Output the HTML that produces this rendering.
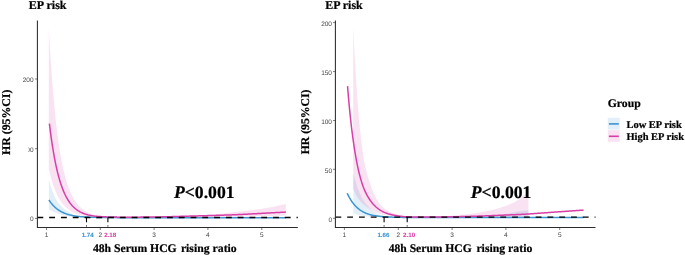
<!DOCTYPE html>
<html><head><meta charset="utf-8"><title>EP risk</title>
<style>
html,body{margin:0;padding:0;background:#fff;}
svg{display:block;}
text{text-rendering:geometricPrecision;}
.b{font-family:"Liberation Serif",serif;font-weight:bold;fill:#000;stroke:#000;stroke-width:0.22px;}
.tk{font-family:"Liberation Sans",sans-serif;font-size:6.5px;fill:#444;}
.tkb{font-family:"Liberation Sans",sans-serif;font-size:6.2px;font-weight:bold;stroke-width:0.08px;}
</style></head><body>
<svg width="685" height="255" viewBox="0 0 685 255">
<rect width="685" height="255" fill="#fff"/>
<path d="M48.90,179.30 L49.50,181.65 L50.00,183.51 L50.50,185.27 L51.00,186.93 L51.50,188.52 L52.00,190.02 L52.50,191.45 L53.00,192.80 L53.50,194.09 L54.00,195.31 L54.50,196.46 L55.00,197.56 L55.50,198.43 L56.00,199.27 L56.50,200.07 L57.00,200.83 L57.50,201.57 L58.00,202.27 L58.50,202.94 L59.00,203.58 L59.50,204.20 L60.00,204.79 L60.50,205.35 L61.00,205.89 L61.50,206.41 L62.00,206.90 L62.50,207.37 L63.00,207.83 L63.50,208.26 L64.00,208.68 L64.50,209.08 L65.00,209.47 L65.50,209.83 L66.00,210.19 L66.50,210.52 L67.00,210.85 L67.50,211.16 L68.00,211.45 L68.50,211.74 L69.00,212.01 L69.50,212.27 L70.00,212.51 L70.50,212.90 L71.00,213.25 L71.50,213.59 L72.00,213.89 L72.50,214.18 L73.00,214.45 L73.50,214.70 L74.00,214.93 L74.50,215.11 L75.00,215.28 L75.50,215.43 L76.00,215.58 L76.50,215.70 L77.00,215.81 L77.50,215.91 L78.00,216.01 L78.50,216.10 L79.00,216.19 L79.50,216.28 L80.00,216.36 L80.50,216.43 L81.00,216.49 L81.50,216.55 L82.00,216.61 L82.50,216.66 L83.00,216.72 L83.50,216.77 L84.00,216.82 L84.50,216.86 L85.00,216.91 L85.50,216.95 L86.00,216.99 L86.50,217.03 L87.00,217.05 L87.50,217.08 L88.00,217.10 L88.50,217.12 L89.00,217.14 L89.50,217.17 L90.00,217.19 L90.50,217.20 L91.00,217.22 L91.50,217.24 L92.00,217.26 L92.50,217.28 L93.00,217.29 L93.50,217.31 L94.00,217.32 L94.50,217.34 L95.00,217.35 L95.50,217.36 L96.00,217.38 L96.50,217.39 L97.00,217.40 L97.50,217.41 L98.00,217.42 L98.50,217.43 L99.00,217.44 L99.50,217.45 L100.00,217.46 L100.50,217.47 L101.00,217.48 L101.50,217.49 L102.00,217.49 L102.50,217.50 L103.00,217.51 L103.50,217.52 L104.00,217.52 L104.50,217.53 L105.00,217.53 L105.50,217.54 L106.00,217.55 L106.50,217.55 L107.00,217.56 L107.50,217.56 L108.00,217.57 L108.50,217.57 L109.00,217.58 L109.50,217.58 L110.00,217.58 L110.50,217.59 L111.00,217.59 L111.50,217.60 L112.00,217.60 L112.50,217.60 L113.00,217.61 L113.50,217.61 L114.00,217.61 L114.50,217.61 L115.00,217.62 L115.50,217.62 L116.00,217.62 L116.50,217.62 L117.00,217.63 L117.50,217.63 L118.00,217.63 L118.50,217.63 L119.00,217.63 L119.50,217.64 L120.00,217.64 L120.50,217.64 L121.00,217.64 L121.50,217.64 L122.00,217.64 L122.50,217.65 L123.00,217.65 L123.50,217.65 L124.00,217.65 L124.50,217.65 L125.00,217.65 L125.50,217.65 L126.00,217.65 L126.50,217.66 L127.00,217.66 L127.50,217.66 L128.00,217.66 L128.50,217.66 L129.00,217.66 L129.50,217.66 L130.00,217.66 L130.50,217.66 L131.00,217.66 L131.50,217.66 L132.00,217.66 L132.50,217.67 L133.00,217.67 L133.50,217.67 L134.00,217.67 L134.50,217.67 L135.00,217.67 L135.50,217.67 L136.00,217.67 L136.50,217.67 L137.00,217.67 L137.50,217.67 L138.00,217.67 L138.50,217.67 L139.00,217.67 L139.50,217.67 L140.00,217.67 L140.50,217.67 L141.00,217.67 L141.50,217.67 L142.00,217.67 L142.50,217.67 L143.00,217.67 L143.50,217.67 L144.00,217.67 L144.50,217.67 L145.00,217.67 L145.50,217.68 L146.00,217.68 L146.50,217.68 L147.00,217.68 L147.50,217.68 L148.00,217.68 L148.50,217.68 L149.00,217.68 L149.50,217.68 L150.00,217.68 L150.50,217.68 L151.00,217.68 L151.50,217.68 L152.00,217.68 L152.50,217.68 L153.00,217.68 L153.50,217.68 L154.00,217.68 L154.50,217.68 L155.00,217.68 L155.50,217.68 L156.00,217.68 L156.50,217.68 L157.00,217.68 L157.50,217.68 L158.00,217.68 L158.50,217.68 L159.00,217.68 L159.50,217.68 L160.00,217.68 L160.50,217.68 L161.00,217.68 L161.50,217.68 L162.00,217.68 L162.50,217.68 L163.00,217.68 L163.50,217.68 L164.00,217.68 L164.50,217.68 L165.00,217.68 L165.50,217.68 L166.00,217.68 L166.50,217.68 L167.00,217.68 L167.50,217.68 L168.00,217.68 L168.50,217.68 L169.00,217.68 L169.50,217.68 L170.00,217.68 L170.50,217.68 L171.00,217.68 L171.50,217.68 L172.00,217.68 L172.50,217.68 L173.00,217.68 L173.50,217.68 L174.00,217.68 L174.50,217.68 L175.00,217.68 L175.50,217.68 L176.00,217.68 L176.50,217.68 L177.00,217.68 L177.50,217.68 L178.00,217.68 L178.50,217.68 L179.00,217.68 L179.50,217.68 L180.00,217.68 L180.50,217.68 L181.00,217.68 L181.50,217.68 L182.00,217.68 L182.50,217.68 L183.00,217.68 L183.50,217.68 L184.00,217.68 L184.50,217.68 L185.00,217.68 L185.50,217.68 L186.00,217.68 L186.50,217.68 L187.00,217.68 L187.50,217.68 L188.00,217.68 L188.50,217.68 L189.00,217.68 L189.50,217.68 L190.00,217.68 L190.50,217.68 L191.00,217.68 L191.50,217.68 L192.00,217.68 L192.50,217.68 L193.00,217.68 L193.50,217.68 L194.00,217.68 L194.50,217.68 L195.00,217.68 L195.50,217.68 L196.00,217.68 L196.50,217.68 L197.00,217.68 L197.50,217.68 L198.00,217.68 L198.50,217.68 L199.00,217.68 L199.50,217.68 L200.00,217.68 L200.50,217.68 L201.00,217.68 L201.50,217.68 L202.00,217.68 L202.50,217.68 L203.00,217.68 L203.50,217.68 L204.00,217.68 L204.50,217.68 L205.00,217.68 L205.50,217.68 L206.00,217.68 L206.50,217.68 L207.00,217.68 L207.50,217.68 L208.00,217.68 L208.50,217.68 L209.00,217.68 L209.50,217.68 L210.00,217.68 L210.50,217.68 L211.00,217.68 L211.50,217.68 L212.00,217.68 L212.50,217.68 L213.00,217.68 L213.50,217.68 L214.00,217.68 L214.50,217.68 L215.00,217.68 L215.50,217.68 L216.00,217.68 L216.50,217.68 L217.00,217.68 L217.50,217.68 L218.00,217.68 L218.50,217.68 L219.00,217.68 L219.50,217.68 L220.00,217.68 L220.50,217.68 L221.00,217.68 L221.50,217.68 L222.00,217.68 L222.50,217.68 L223.00,217.68 L223.50,217.68 L224.00,217.68 L224.50,217.68 L225.00,217.68 L225.50,217.68 L226.00,217.68 L226.50,217.68 L227.00,217.68 L227.50,217.68 L228.00,217.68 L228.50,217.68 L229.00,217.68 L229.50,217.68 L230.00,217.68 L230.50,217.68 L231.00,217.68 L231.50,217.68 L232.00,217.68 L232.50,217.68 L233.00,217.68 L233.50,217.68 L234.00,217.68 L234.50,217.68 L235.00,217.68 L235.50,217.68 L236.00,217.68 L236.50,217.68 L237.00,217.68 L237.50,217.68 L238.00,217.68 L238.50,217.68 L239.00,217.68 L239.50,217.68 L240.00,217.68 L240.50,217.68 L241.00,217.68 L241.50,217.68 L242.00,217.68 L242.50,217.68 L243.00,217.68 L243.50,217.68 L244.00,217.68 L244.50,217.68 L245.00,217.68 L245.50,217.68 L246.00,217.68 L246.50,217.68 L247.00,217.68 L247.50,217.68 L248.00,217.68 L248.50,217.68 L249.00,217.68 L249.50,217.68 L250.00,217.68 L250.50,217.68 L251.00,217.68 L251.50,217.68 L252.00,217.68 L252.50,217.68 L253.00,217.68 L253.50,217.68 L254.00,217.68 L254.50,217.68 L255.00,217.68 L255.50,217.68 L256.00,217.68 L256.50,217.68 L257.00,217.68 L257.50,217.68 L258.00,217.68 L258.50,217.68 L259.00,217.68 L259.50,217.68 L260.00,217.68 L260.50,217.68 L261.00,217.68 L261.50,217.68 L262.00,217.68 L262.50,217.68 L263.00,217.68 L263.50,217.68 L264.00,217.68 L264.50,217.68 L265.00,217.68 L265.50,217.68 L266.00,217.68 L266.50,217.68 L267.00,217.68 L267.50,217.68 L268.00,217.68 L268.50,217.68 L269.00,217.68 L269.50,217.68 L270.00,217.68 L270.50,217.68 L271.00,217.68 L271.50,217.68 L272.00,217.68 L272.50,217.68 L273.00,217.68 L273.50,217.68 L274.00,217.68 L274.50,217.68 L275.00,217.68 L275.50,217.68 L276.00,217.68 L276.50,217.68 L277.00,217.68 L277.50,217.68 L278.00,217.68 L278.50,217.68 L279.00,217.68 L279.50,217.68 L280.00,217.68 L280.50,217.68 L281.00,217.68 L281.50,217.68 L282.00,217.68 L282.50,217.68 L283.00,217.68 L283.50,217.68 L284.00,217.68 L284.50,217.68 L285.00,217.68 L285.50,217.68 L285.90,217.68 L285.90,217.68 L285.50,217.68 L285.00,217.68 L284.50,217.68 L284.00,217.68 L283.50,217.68 L283.00,217.68 L282.50,217.68 L282.00,217.68 L281.50,217.68 L281.00,217.68 L280.50,217.68 L280.00,217.68 L279.50,217.68 L279.00,217.68 L278.50,217.68 L278.00,217.68 L277.50,217.68 L277.00,217.68 L276.50,217.68 L276.00,217.68 L275.50,217.68 L275.00,217.68 L274.50,217.68 L274.00,217.68 L273.50,217.68 L273.00,217.68 L272.50,217.68 L272.00,217.68 L271.50,217.68 L271.00,217.68 L270.50,217.68 L270.00,217.68 L269.50,217.68 L269.00,217.68 L268.50,217.68 L268.00,217.68 L267.50,217.68 L267.00,217.68 L266.50,217.68 L266.00,217.68 L265.50,217.68 L265.00,217.68 L264.50,217.68 L264.00,217.68 L263.50,217.68 L263.00,217.68 L262.50,217.68 L262.00,217.68 L261.50,217.68 L261.00,217.68 L260.50,217.68 L260.00,217.68 L259.50,217.68 L259.00,217.68 L258.50,217.68 L258.00,217.68 L257.50,217.68 L257.00,217.68 L256.50,217.68 L256.00,217.68 L255.50,217.68 L255.00,217.68 L254.50,217.68 L254.00,217.68 L253.50,217.68 L253.00,217.68 L252.50,217.68 L252.00,217.68 L251.50,217.68 L251.00,217.68 L250.50,217.68 L250.00,217.68 L249.50,217.68 L249.00,217.68 L248.50,217.68 L248.00,217.68 L247.50,217.68 L247.00,217.68 L246.50,217.68 L246.00,217.68 L245.50,217.68 L245.00,217.68 L244.50,217.68 L244.00,217.68 L243.50,217.68 L243.00,217.68 L242.50,217.68 L242.00,217.68 L241.50,217.68 L241.00,217.68 L240.50,217.68 L240.00,217.68 L239.50,217.68 L239.00,217.68 L238.50,217.68 L238.00,217.68 L237.50,217.68 L237.00,217.68 L236.50,217.68 L236.00,217.68 L235.50,217.68 L235.00,217.68 L234.50,217.68 L234.00,217.68 L233.50,217.68 L233.00,217.68 L232.50,217.68 L232.00,217.68 L231.50,217.68 L231.00,217.68 L230.50,217.68 L230.00,217.68 L229.50,217.68 L229.00,217.68 L228.50,217.68 L228.00,217.68 L227.50,217.68 L227.00,217.68 L226.50,217.68 L226.00,217.68 L225.50,217.68 L225.00,217.68 L224.50,217.68 L224.00,217.68 L223.50,217.68 L223.00,217.68 L222.50,217.68 L222.00,217.68 L221.50,217.68 L221.00,217.68 L220.50,217.68 L220.00,217.68 L219.50,217.68 L219.00,217.68 L218.50,217.68 L218.00,217.68 L217.50,217.68 L217.00,217.68 L216.50,217.68 L216.00,217.68 L215.50,217.68 L215.00,217.68 L214.50,217.68 L214.00,217.68 L213.50,217.68 L213.00,217.68 L212.50,217.68 L212.00,217.68 L211.50,217.68 L211.00,217.68 L210.50,217.68 L210.00,217.68 L209.50,217.68 L209.00,217.68 L208.50,217.68 L208.00,217.68 L207.50,217.68 L207.00,217.68 L206.50,217.68 L206.00,217.68 L205.50,217.68 L205.00,217.68 L204.50,217.68 L204.00,217.68 L203.50,217.68 L203.00,217.68 L202.50,217.68 L202.00,217.68 L201.50,217.68 L201.00,217.68 L200.50,217.68 L200.00,217.68 L199.50,217.68 L199.00,217.68 L198.50,217.68 L198.00,217.68 L197.50,217.68 L197.00,217.68 L196.50,217.68 L196.00,217.68 L195.50,217.68 L195.00,217.68 L194.50,217.68 L194.00,217.68 L193.50,217.68 L193.00,217.68 L192.50,217.68 L192.00,217.68 L191.50,217.68 L191.00,217.68 L190.50,217.68 L190.00,217.68 L189.50,217.68 L189.00,217.68 L188.50,217.68 L188.00,217.68 L187.50,217.68 L187.00,217.68 L186.50,217.68 L186.00,217.68 L185.50,217.68 L185.00,217.68 L184.50,217.68 L184.00,217.68 L183.50,217.68 L183.00,217.68 L182.50,217.68 L182.00,217.68 L181.50,217.68 L181.00,217.68 L180.50,217.68 L180.00,217.68 L179.50,217.68 L179.00,217.68 L178.50,217.68 L178.00,217.68 L177.50,217.68 L177.00,217.68 L176.50,217.68 L176.00,217.68 L175.50,217.68 L175.00,217.68 L174.50,217.68 L174.00,217.68 L173.50,217.68 L173.00,217.68 L172.50,217.68 L172.00,217.68 L171.50,217.68 L171.00,217.68 L170.50,217.68 L170.00,217.68 L169.50,217.68 L169.00,217.68 L168.50,217.68 L168.00,217.68 L167.50,217.68 L167.00,217.68 L166.50,217.68 L166.00,217.68 L165.50,217.68 L165.00,217.68 L164.50,217.68 L164.00,217.68 L163.50,217.68 L163.00,217.68 L162.50,217.68 L162.00,217.68 L161.50,217.68 L161.00,217.68 L160.50,217.68 L160.00,217.68 L159.50,217.68 L159.00,217.68 L158.50,217.68 L158.00,217.68 L157.50,217.68 L157.00,217.68 L156.50,217.68 L156.00,217.68 L155.50,217.68 L155.00,217.68 L154.50,217.68 L154.00,217.68 L153.50,217.68 L153.00,217.68 L152.50,217.68 L152.00,217.68 L151.50,217.68 L151.00,217.68 L150.50,217.68 L150.00,217.68 L149.50,217.68 L149.00,217.68 L148.50,217.68 L148.00,217.68 L147.50,217.68 L147.00,217.68 L146.50,217.68 L146.00,217.68 L145.50,217.68 L145.00,217.67 L144.50,217.67 L144.00,217.67 L143.50,217.67 L143.00,217.67 L142.50,217.67 L142.00,217.67 L141.50,217.67 L141.00,217.67 L140.50,217.67 L140.00,217.67 L139.50,217.67 L139.00,217.67 L138.50,217.67 L138.00,217.67 L137.50,217.67 L137.00,217.67 L136.50,217.67 L136.00,217.67 L135.50,217.67 L135.00,217.67 L134.50,217.67 L134.00,217.67 L133.50,217.67 L133.00,217.67 L132.50,217.67 L132.00,217.66 L131.50,217.66 L131.00,217.66 L130.50,217.66 L130.00,217.66 L129.50,217.66 L129.00,217.66 L128.50,217.66 L128.00,217.66 L127.50,217.66 L127.00,217.66 L126.50,217.66 L126.00,217.65 L125.50,217.65 L125.00,217.65 L124.50,217.65 L124.00,217.65 L123.50,217.65 L123.00,217.65 L122.50,217.65 L122.00,217.64 L121.50,217.64 L121.00,217.64 L120.50,217.64 L120.00,217.64 L119.50,217.64 L119.00,217.63 L118.50,217.63 L118.00,217.63 L117.50,217.63 L117.00,217.63 L116.50,217.62 L116.00,217.62 L115.50,217.62 L115.00,217.62 L114.50,217.61 L114.00,217.61 L113.50,217.61 L113.00,217.61 L112.50,217.60 L112.00,217.60 L111.50,217.60 L111.00,217.59 L110.50,217.59 L110.00,217.58 L109.50,217.58 L109.00,217.58 L108.50,217.57 L108.00,217.57 L107.50,217.56 L107.00,217.56 L106.50,217.55 L106.00,217.55 L105.50,217.54 L105.00,217.53 L104.50,217.53 L104.00,217.52 L103.50,217.52 L103.00,217.51 L102.50,217.50 L102.00,217.49 L101.50,217.49 L101.00,217.48 L100.50,217.47 L100.00,217.46 L99.50,217.45 L99.00,217.44 L98.50,217.43 L98.00,217.42 L97.50,217.41 L97.00,217.40 L96.50,217.39 L96.00,217.38 L95.50,217.36 L95.00,217.35 L94.50,217.34 L94.00,217.32 L93.50,217.31 L93.00,217.29 L92.50,217.28 L92.00,217.26 L91.50,217.24 L91.00,217.22 L90.50,217.20 L90.00,217.19 L89.50,217.17 L89.00,217.14 L88.50,217.12 L88.00,217.10 L87.50,217.08 L87.00,217.05 L86.50,217.03 L86.00,217.01 L85.50,216.99 L85.00,216.98 L84.50,216.96 L84.00,216.94 L83.50,216.93 L83.00,216.91 L82.50,216.89 L82.00,216.87 L81.50,216.85 L81.00,216.83 L80.50,216.81 L80.00,216.78 L79.50,216.77 L79.00,216.75 L78.50,216.74 L78.00,216.72 L77.50,216.70 L77.00,216.68 L76.50,216.67 L76.00,216.65 L75.50,216.61 L75.00,216.58 L74.50,216.54 L74.00,216.50 L73.50,216.49 L73.00,216.47 L72.50,216.45 L72.00,216.43 L71.50,216.41 L71.00,216.39 L70.50,216.37 L70.00,216.35 L69.50,216.28 L69.00,216.21 L68.50,216.13 L68.00,216.05 L67.50,215.97 L67.00,215.89 L66.50,215.80 L66.00,215.71 L65.50,215.61 L65.00,215.51 L64.50,215.41 L64.00,215.30 L63.50,215.19 L63.00,215.07 L62.50,214.95 L62.00,214.82 L61.50,214.68 L61.00,214.54 L60.50,214.40 L60.00,214.24 L59.50,214.08 L59.00,213.92 L58.50,213.75 L58.00,213.57 L57.50,213.38 L57.00,213.18 L56.50,212.98 L56.00,212.77 L55.50,212.55 L55.00,212.32 L54.50,212.13 L54.00,211.93 L53.50,211.73 L53.00,211.52 L52.50,211.31 L52.00,211.09 L51.50,210.86 L51.00,210.62 L50.50,210.38 L50.00,210.12 L49.50,209.86 L48.90,209.54 Z" fill="#3b93cf" fill-opacity="0.15"/>
<path d="M48.80,29.15 L49.00,32.69 L49.50,41.25 L50.00,49.41 L50.50,57.20 L51.00,64.62 L51.50,71.70 L52.00,78.46 L52.50,84.91 L53.00,91.05 L53.50,96.92 L54.00,102.51 L54.50,107.84 L55.00,112.93 L55.50,117.79 L56.00,122.42 L56.50,126.74 L57.00,130.87 L57.50,134.82 L58.00,138.58 L58.50,142.18 L59.00,145.61 L59.50,148.89 L60.00,152.02 L60.50,155.00 L61.00,157.86 L61.50,160.58 L62.00,163.18 L62.50,165.66 L63.00,168.03 L63.50,170.21 L64.00,172.29 L64.50,174.29 L65.00,176.19 L65.50,178.02 L66.00,179.76 L66.50,181.43 L67.00,183.02 L67.50,184.55 L68.00,186.01 L68.50,187.40 L69.00,188.73 L69.50,190.01 L70.00,191.23 L70.50,192.40 L71.00,193.51 L71.50,194.58 L72.00,195.60 L72.50,196.58 L73.00,197.51 L73.50,198.40 L74.00,199.26 L74.50,200.07 L75.00,200.85 L75.50,201.60 L76.00,202.31 L76.50,202.99 L77.00,203.64 L77.50,204.27 L78.00,204.86 L78.50,205.43 L79.00,205.97 L79.50,206.49 L80.00,206.99 L80.50,207.46 L81.00,207.91 L81.50,208.34 L82.00,208.76 L82.50,209.15 L83.00,209.53 L83.50,209.89 L84.00,210.23 L84.50,210.56 L85.00,210.87 L85.50,211.17 L86.00,211.45 L86.50,211.72 L87.00,211.98 L87.50,212.26 L88.00,212.55 L88.50,212.83 L89.00,213.09 L89.50,213.34 L90.00,213.57 L90.50,213.79 L91.00,213.99 L91.50,214.18 L92.00,214.37 L92.50,214.54 L93.00,214.70 L93.50,214.84 L94.00,214.98 L94.50,215.11 L95.00,215.23 L95.50,215.34 L96.00,215.45 L96.50,215.55 L97.00,215.65 L97.50,215.74 L98.00,215.82 L98.50,215.91 L99.00,215.99 L99.50,216.06 L100.00,216.13 L100.50,216.20 L101.00,216.27 L101.50,216.33 L102.00,216.38 L102.50,216.44 L103.00,216.49 L103.50,216.54 L104.00,216.59 L104.50,216.64 L105.00,216.68 L105.50,216.73 L106.00,216.77 L106.50,216.81 L107.00,216.85 L107.50,216.89 L108.00,216.93 L108.50,216.93 L109.00,216.93 L109.50,216.93 L110.00,216.92 L110.50,216.92 L111.00,216.92 L111.50,216.92 L112.00,216.91 L112.50,216.91 L113.00,216.91 L113.50,216.91 L114.00,216.91 L114.50,216.91 L115.00,216.90 L115.50,216.90 L116.00,216.90 L116.50,216.90 L117.00,216.90 L117.50,216.90 L118.00,216.90 L118.50,216.89 L119.00,216.89 L119.50,216.89 L120.00,216.89 L120.50,216.89 L121.00,216.89 L121.50,216.89 L122.00,216.89 L122.50,216.89 L123.00,216.88 L123.50,216.88 L124.00,216.88 L124.50,216.88 L125.00,216.88 L125.50,216.88 L126.00,216.88 L126.50,216.88 L127.00,216.88 L127.50,216.88 L128.00,216.87 L128.50,216.87 L129.00,216.87 L129.50,216.87 L130.00,216.87 L130.50,216.87 L131.00,216.87 L131.50,216.87 L132.00,216.87 L132.50,216.86 L133.00,216.86 L133.50,216.86 L134.00,216.86 L134.50,216.86 L135.00,216.86 L135.50,216.86 L136.00,216.85 L136.50,216.85 L137.00,216.85 L137.50,216.85 L138.00,216.85 L138.50,216.84 L139.00,216.84 L139.50,216.84 L140.00,216.84 L140.50,216.84 L141.00,216.83 L141.50,216.83 L142.00,216.83 L142.50,216.83 L143.00,216.82 L143.50,216.82 L144.00,216.82 L144.50,216.81 L145.00,216.81 L145.50,216.81 L146.00,216.80 L146.50,216.80 L147.00,216.80 L147.50,216.79 L148.00,216.79 L148.50,216.79 L149.00,216.78 L149.50,216.78 L150.00,216.77 L150.50,216.77 L151.00,216.76 L151.50,216.76 L152.00,216.75 L152.50,216.75 L153.00,216.74 L153.50,216.74 L154.00,216.73 L154.50,216.73 L155.00,216.72 L155.50,216.71 L156.00,216.71 L156.50,216.70 L157.00,216.69 L157.50,216.69 L158.00,216.68 L158.50,216.67 L159.00,216.67 L159.50,216.66 L160.00,216.65 L160.50,216.64 L161.00,216.63 L161.50,216.63 L162.00,216.62 L162.50,216.61 L163.00,216.60 L163.50,216.60 L164.00,216.59 L164.50,216.58 L165.00,216.57 L165.50,216.57 L166.00,216.56 L166.50,216.55 L167.00,216.54 L167.50,216.54 L168.00,216.53 L168.50,216.52 L169.00,216.51 L169.50,216.50 L170.00,216.50 L170.50,216.49 L171.00,216.48 L171.50,216.47 L172.00,216.46 L172.50,216.46 L173.00,216.45 L173.50,216.44 L174.00,216.43 L174.50,216.42 L175.00,216.41 L175.50,216.40 L176.00,216.39 L176.50,216.38 L177.00,216.37 L177.50,216.36 L178.00,216.35 L178.50,216.34 L179.00,216.33 L179.50,216.32 L180.00,216.31 L180.50,216.30 L181.00,216.29 L181.50,216.28 L182.00,216.27 L182.50,216.25 L183.00,216.24 L183.50,216.23 L184.00,216.21 L184.50,216.20 L185.00,216.19 L185.50,216.17 L186.00,216.16 L186.50,216.15 L187.00,216.13 L187.50,216.11 L188.00,216.10 L188.50,216.08 L189.00,216.07 L189.50,216.05 L190.00,216.03 L190.50,216.02 L191.00,216.00 L191.50,215.98 L192.00,215.96 L192.50,215.94 L193.00,215.92 L193.50,215.90 L194.00,215.88 L194.50,215.86 L195.00,215.84 L195.50,215.82 L196.00,215.80 L196.50,215.77 L197.00,215.75 L197.50,215.73 L198.00,215.70 L198.50,215.68 L199.00,215.65 L199.50,215.63 L200.00,215.60 L200.50,215.57 L201.00,215.54 L201.50,215.52 L202.00,215.48 L202.50,215.45 L203.00,215.42 L203.50,215.39 L204.00,215.35 L204.50,215.32 L205.00,215.28 L205.50,215.24 L206.00,215.21 L206.50,215.17 L207.00,215.13 L207.50,215.09 L208.00,215.05 L208.50,215.00 L209.00,214.96 L209.50,214.92 L210.00,214.87 L210.50,214.83 L211.00,214.78 L211.50,214.74 L212.00,214.69 L212.50,214.64 L213.00,214.60 L213.50,214.55 L214.00,214.50 L214.50,214.45 L215.00,214.40 L215.50,214.35 L216.00,214.30 L216.50,214.24 L217.00,214.19 L217.50,214.13 L218.00,214.08 L218.50,214.02 L219.00,213.96 L219.50,213.90 L220.00,213.84 L220.50,213.78 L221.00,213.72 L221.50,213.65 L222.00,213.59 L222.50,213.53 L223.00,213.46 L223.50,213.40 L224.00,213.34 L224.50,213.27 L225.00,213.21 L225.50,213.15 L226.00,213.08 L226.50,213.02 L227.00,212.96 L227.50,212.90 L228.00,212.84 L228.50,212.78 L229.00,212.72 L229.50,212.66 L230.00,212.60 L230.50,212.54 L231.00,212.49 L231.50,212.43 L232.00,212.38 L232.50,212.32 L233.00,212.27 L233.50,212.21 L234.00,212.16 L234.50,212.11 L235.00,212.05 L235.50,212.00 L236.00,211.95 L236.50,211.90 L237.00,211.85 L237.50,211.80 L238.00,211.74 L238.50,211.69 L239.00,211.64 L239.50,211.59 L240.00,211.54 L240.50,211.49 L241.00,211.43 L241.50,211.38 L242.00,211.33 L242.50,211.27 L243.00,211.22 L243.50,211.17 L244.00,211.11 L244.50,211.06 L245.00,211.00 L245.50,210.95 L246.00,210.89 L246.50,210.83 L247.00,210.77 L247.50,210.71 L248.00,210.65 L248.50,210.59 L249.00,210.53 L249.50,210.46 L250.00,210.40 L250.50,210.33 L251.00,210.27 L251.50,210.20 L252.00,210.14 L252.50,210.07 L253.00,210.01 L253.50,209.94 L254.00,209.87 L254.50,209.80 L255.00,209.74 L255.50,209.67 L256.00,209.60 L256.50,209.53 L257.00,209.46 L257.50,209.39 L258.00,209.32 L258.50,209.25 L259.00,209.18 L259.50,209.10 L260.00,209.03 L260.50,208.96 L261.00,208.88 L261.50,208.81 L262.00,208.73 L262.50,208.65 L263.00,208.58 L263.50,208.50 L264.00,208.42 L264.50,208.34 L265.00,208.26 L265.50,208.18 L266.00,208.09 L266.50,208.01 L267.00,207.93 L267.50,207.84 L268.00,207.76 L268.50,207.67 L269.00,207.58 L269.50,207.49 L270.00,207.40 L270.50,207.31 L271.00,207.21 L271.50,207.12 L272.00,207.02 L272.50,206.92 L273.00,206.82 L273.50,206.72 L274.00,206.62 L274.50,206.51 L275.00,206.41 L275.50,206.30 L276.00,206.19 L276.50,206.08 L277.00,205.97 L277.50,205.86 L278.00,205.75 L278.50,205.64 L279.00,205.53 L279.50,205.42 L280.00,205.31 L280.50,205.19 L281.00,205.08 L281.50,204.97 L282.00,204.86 L282.50,204.75 L283.00,204.63 L283.50,204.52 L284.00,204.41 L284.50,204.30 L285.00,204.19 L285.50,204.09 L285.90,204.00 L285.90,215.50 L285.50,215.51 L285.00,215.53 L284.50,215.54 L284.00,215.55 L283.50,215.57 L283.00,215.58 L282.50,215.60 L282.00,215.61 L281.50,215.63 L281.00,215.64 L280.50,215.66 L280.00,215.67 L279.50,215.69 L279.00,215.70 L278.50,215.72 L278.00,215.73 L277.50,215.75 L277.00,215.76 L276.50,215.78 L276.00,215.79 L275.50,215.81 L275.00,215.82 L274.50,215.84 L274.00,215.85 L273.50,215.87 L273.00,215.88 L272.50,215.90 L272.00,215.91 L271.50,215.93 L271.00,215.94 L270.50,215.96 L270.00,215.97 L269.50,215.99 L269.00,216.00 L268.50,216.02 L268.00,216.03 L267.50,216.05 L267.00,216.06 L266.50,216.08 L266.00,216.09 L265.50,216.11 L265.00,216.12 L264.50,216.14 L264.00,216.15 L263.50,216.17 L263.00,216.18 L262.50,216.19 L262.00,216.21 L261.50,216.22 L261.00,216.24 L260.50,216.25 L260.00,216.26 L259.50,216.28 L259.00,216.29 L258.50,216.30 L258.00,216.32 L257.50,216.33 L257.00,216.34 L256.50,216.35 L256.00,216.37 L255.50,216.38 L255.00,216.39 L254.50,216.40 L254.00,216.41 L253.50,216.43 L253.00,216.44 L252.50,216.45 L252.00,216.46 L251.50,216.47 L251.00,216.48 L250.50,216.49 L250.00,216.50 L249.50,216.51 L249.00,216.52 L248.50,216.53 L248.00,216.54 L247.50,216.55 L247.00,216.56 L246.50,216.57 L246.00,216.58 L245.50,216.59 L245.00,216.59 L244.50,216.60 L244.00,216.61 L243.50,216.62 L243.00,216.63 L242.50,216.64 L242.00,216.65 L241.50,216.65 L241.00,216.66 L240.50,216.67 L240.00,216.68 L239.50,216.69 L239.00,216.69 L238.50,216.70 L238.00,216.71 L237.50,216.72 L237.00,216.72 L236.50,216.73 L236.00,216.74 L235.50,216.75 L235.00,216.75 L234.50,216.76 L234.00,216.77 L233.50,216.77 L233.00,216.78 L232.50,216.79 L232.00,216.79 L231.50,216.80 L231.00,216.81 L230.50,216.81 L230.00,216.82 L229.50,216.83 L229.00,216.83 L228.50,216.84 L228.00,216.84 L227.50,216.85 L227.00,216.86 L226.50,216.86 L226.00,216.87 L225.50,216.87 L225.00,216.88 L224.50,216.88 L224.00,216.89 L223.50,216.90 L223.00,216.90 L222.50,216.91 L222.00,216.91 L221.50,216.92 L221.00,216.92 L220.50,216.93 L220.00,216.93 L219.50,216.94 L219.00,216.94 L218.50,216.95 L218.00,216.95 L217.50,216.96 L217.00,216.96 L216.50,216.97 L216.00,216.97 L215.50,216.98 L215.00,216.98 L214.50,216.98 L214.00,216.99 L213.50,216.99 L213.00,217.00 L212.50,217.00 L212.00,217.01 L211.50,217.01 L211.00,217.01 L210.50,217.02 L210.00,217.02 L209.50,217.03 L209.00,217.03 L208.50,217.04 L208.00,217.04 L207.50,217.04 L207.00,217.05 L206.50,217.05 L206.00,217.06 L205.50,217.06 L205.00,217.06 L204.50,217.07 L204.00,217.07 L203.50,217.07 L203.00,217.08 L202.50,217.08 L202.00,217.09 L201.50,217.09 L201.00,217.09 L200.50,217.10 L200.00,217.10 L199.50,217.10 L199.00,217.11 L198.50,217.11 L198.00,217.11 L197.50,217.12 L197.00,217.12 L196.50,217.12 L196.00,217.13 L195.50,217.13 L195.00,217.13 L194.50,217.14 L194.00,217.14 L193.50,217.14 L193.00,217.14 L192.50,217.15 L192.00,217.15 L191.50,217.15 L191.00,217.15 L190.50,217.16 L190.00,217.16 L189.50,217.16 L189.00,217.16 L188.50,217.17 L188.00,217.17 L187.50,217.17 L187.00,217.17 L186.50,217.17 L186.00,217.18 L185.50,217.18 L185.00,217.18 L184.50,217.18 L184.00,217.18 L183.50,217.18 L183.00,217.18 L182.50,217.19 L182.00,217.19 L181.50,217.19 L181.00,217.19 L180.50,217.19 L180.00,217.19 L179.50,217.19 L179.00,217.19 L178.50,217.20 L178.00,217.20 L177.50,217.20 L177.00,217.20 L176.50,217.20 L176.00,217.20 L175.50,217.20 L175.00,217.20 L174.50,217.20 L174.00,217.20 L173.50,217.20 L173.00,217.20 L172.50,217.20 L172.00,217.20 L171.50,217.20 L171.00,217.20 L170.50,217.21 L170.00,217.21 L169.50,217.21 L169.00,217.21 L168.50,217.21 L168.00,217.21 L167.50,217.21 L167.00,217.21 L166.50,217.21 L166.00,217.21 L165.50,217.20 L165.00,217.20 L164.50,217.20 L164.00,217.20 L163.50,217.20 L163.00,217.20 L162.50,217.20 L162.00,217.20 L161.50,217.20 L161.00,217.20 L160.50,217.20 L160.00,217.20 L159.50,217.20 L159.00,217.20 L158.50,217.20 L158.00,217.20 L157.50,217.20 L157.00,217.19 L156.50,217.19 L156.00,217.19 L155.50,217.19 L155.00,217.19 L154.50,217.19 L154.00,217.19 L153.50,217.19 L153.00,217.18 L152.50,217.18 L152.00,217.18 L151.50,217.18 L151.00,217.18 L150.50,217.18 L150.00,217.17 L149.50,217.17 L149.00,217.17 L148.50,217.17 L148.00,217.17 L147.50,217.16 L147.00,217.16 L146.50,217.16 L146.00,217.16 L145.50,217.15 L145.00,217.15 L144.50,217.15 L144.00,217.15 L143.50,217.15 L143.00,217.14 L142.50,217.14 L142.00,217.14 L141.50,217.13 L141.00,217.13 L140.50,217.13 L140.00,217.13 L139.50,217.12 L139.00,217.12 L138.50,217.12 L138.00,217.12 L137.50,217.11 L137.00,217.11 L136.50,217.11 L136.00,217.10 L135.50,217.10 L135.00,217.10 L134.50,217.10 L134.00,217.09 L133.50,217.09 L133.00,217.09 L132.50,217.08 L132.00,217.08 L131.50,217.08 L131.00,217.07 L130.50,217.07 L130.00,217.07 L129.50,217.06 L129.00,217.06 L128.50,217.06 L128.00,217.05 L127.50,217.05 L127.00,217.05 L126.50,217.05 L126.00,217.04 L125.50,217.04 L125.00,217.04 L124.50,217.03 L124.00,217.03 L123.50,217.03 L123.00,217.02 L122.50,217.02 L122.00,217.02 L121.50,217.01 L121.00,217.01 L120.50,217.01 L120.00,217.00 L119.50,217.00 L119.00,217.00 L118.50,216.99 L118.00,216.99 L117.50,216.99 L117.00,216.99 L116.50,216.98 L116.00,216.98 L115.50,216.98 L115.00,216.97 L114.50,216.97 L114.00,216.97 L113.50,216.96 L113.00,216.96 L112.50,216.96 L112.00,216.96 L111.50,216.95 L111.00,216.95 L110.50,216.95 L110.00,216.95 L109.50,216.94 L109.00,216.94 L108.50,216.94 L108.00,216.93 L107.50,216.95 L107.00,216.97 L106.50,216.98 L106.00,216.98 L105.50,216.99 L105.00,216.99 L104.50,217.00 L104.00,217.00 L103.50,217.00 L103.00,217.00 L102.50,216.99 L102.00,216.99 L101.50,216.99 L101.00,216.98 L100.50,216.98 L100.00,216.97 L99.50,216.96 L99.00,216.95 L98.50,216.94 L98.00,216.93 L97.50,216.92 L97.00,216.91 L96.50,216.90 L96.00,216.88 L95.50,216.87 L95.00,216.85 L94.50,216.83 L94.00,216.81 L93.50,216.79 L93.00,216.77 L92.50,216.74 L92.00,216.72 L91.50,216.69 L91.00,216.66 L90.50,216.62 L90.00,216.59 L89.50,216.55 L89.00,216.51 L88.50,216.47 L88.00,216.43 L87.50,216.39 L87.00,216.33 L86.50,216.26 L86.00,216.19 L85.50,216.11 L85.00,216.03 L84.50,215.94 L84.00,215.85 L83.50,215.76 L83.00,215.66 L82.50,215.55 L82.00,215.44 L81.50,215.33 L81.00,215.21 L80.50,215.08 L80.00,214.95 L79.50,214.82 L79.00,214.67 L78.50,214.52 L78.00,214.36 L77.50,214.20 L77.00,214.03 L76.50,213.85 L76.00,213.66 L75.50,213.46 L75.00,213.26 L74.50,213.04 L74.00,212.81 L73.50,212.58 L73.00,212.33 L72.50,212.07 L72.00,211.80 L71.50,211.52 L71.00,211.23 L70.50,210.92 L70.00,210.59 L69.50,210.26 L69.00,209.90 L68.50,209.53 L68.00,209.15 L67.50,208.74 L67.00,208.32 L66.50,207.88 L66.00,207.42 L65.50,206.94 L65.00,206.43 L64.50,205.91 L64.00,205.36 L63.50,204.78 L63.00,204.18 L62.50,203.55 L62.00,202.89 L61.50,202.20 L61.00,201.48 L60.50,200.73 L60.00,199.94 L59.50,199.12 L59.00,198.26 L58.50,197.36 L58.00,196.42 L57.50,195.43 L57.00,194.41 L56.50,193.33 L56.00,192.21 L55.50,191.04 L55.00,189.81 L54.50,188.52 L54.00,187.18 L53.50,185.78 L53.00,184.31 L52.50,182.78 L52.00,181.18 L51.50,179.50 L51.00,177.75 L50.50,175.92 L50.00,174.00 L49.50,172.00 L49.00,169.91 L48.80,169.04 Z" fill="#d83fa6" fill-opacity="0.15"/>
<path d="M48.90,199.90 L49.50,200.80 L50.00,201.52 L50.50,202.20 L51.00,202.86 L51.50,203.49 L52.00,204.09 L52.50,204.67 L53.00,205.23 L53.50,205.76 L54.00,206.27 L54.50,206.76 L55.00,207.22 L55.50,207.67 L56.00,208.10 L56.50,208.51 L57.00,208.91 L57.50,209.29 L58.00,209.65 L58.50,210.00 L59.00,210.33 L59.50,210.65 L60.00,210.95 L60.50,211.25 L61.00,211.53 L61.50,211.80 L62.00,212.06 L62.50,212.30 L63.00,212.54 L63.50,212.77 L64.00,212.99 L64.50,213.19 L65.00,213.39 L65.50,213.59 L66.00,213.77 L66.50,213.95 L67.00,214.11 L67.50,214.28 L68.00,214.43 L68.50,214.58 L69.00,214.72 L69.50,214.86 L70.00,214.99 L70.50,215.11 L71.00,215.23 L71.50,215.35 L72.00,215.46 L72.50,215.57 L73.00,215.67 L73.50,215.76 L74.00,215.86 L74.50,215.95 L75.00,216.03 L75.50,216.11 L76.00,216.19 L76.50,216.25 L77.00,216.30 L77.50,216.35 L78.00,216.40 L78.50,216.45 L79.00,216.50 L79.50,216.54 L80.00,216.59 L80.50,216.63 L81.00,216.67 L81.50,216.71 L82.00,216.75 L82.50,216.78 L83.00,216.82 L83.50,216.85 L84.00,216.88 L84.50,216.91 L85.00,216.94 L85.50,216.97 L86.00,217.00 L86.50,217.03 L87.00,217.05 L87.50,217.08 L88.00,217.10 L88.50,217.12 L89.00,217.14 L89.50,217.17 L90.00,217.19 L90.50,217.20 L91.00,217.22 L91.50,217.24 L92.00,217.26 L92.50,217.28 L93.00,217.29 L93.50,217.31 L94.00,217.32 L94.50,217.34 L95.00,217.35 L95.50,217.36 L96.00,217.38 L96.50,217.39 L97.00,217.40 L97.50,217.41 L98.00,217.42 L98.50,217.43 L99.00,217.44 L99.50,217.45 L100.00,217.46 L100.50,217.47 L101.00,217.48 L101.50,217.49 L102.00,217.49 L102.50,217.50 L103.00,217.51 L103.50,217.52 L104.00,217.52 L104.50,217.53 L105.00,217.53 L105.50,217.54 L106.00,217.55 L106.50,217.55 L107.00,217.56 L107.50,217.56 L108.00,217.57 L108.50,217.57 L109.00,217.58 L109.50,217.58 L110.00,217.58 L110.50,217.59 L111.00,217.59 L111.50,217.60 L112.00,217.60 L112.50,217.60 L113.00,217.61 L113.50,217.61 L114.00,217.61 L114.50,217.61 L115.00,217.62 L115.50,217.62 L116.00,217.62 L116.50,217.62 L117.00,217.63 L117.50,217.63 L118.00,217.63 L118.50,217.63 L119.00,217.63 L119.50,217.64 L120.00,217.64 L120.50,217.64 L121.00,217.64 L121.50,217.64 L122.00,217.64 L122.50,217.65 L123.00,217.65 L123.50,217.65 L124.00,217.65 L124.50,217.65 L125.00,217.65 L125.50,217.65 L126.00,217.65 L126.50,217.66 L127.00,217.66 L127.50,217.66 L128.00,217.66 L128.50,217.66 L129.00,217.66 L129.50,217.66 L130.00,217.66 L130.50,217.66 L131.00,217.66 L131.50,217.66 L132.00,217.66 L132.50,217.67 L133.00,217.67 L133.50,217.67 L134.00,217.67 L134.50,217.67 L135.00,217.67 L135.50,217.67 L136.00,217.67 L136.50,217.67 L137.00,217.67 L137.50,217.67 L138.00,217.67 L138.50,217.67 L139.00,217.67 L139.50,217.67 L140.00,217.67 L140.50,217.67 L141.00,217.67 L141.50,217.67 L142.00,217.67 L142.50,217.67 L143.00,217.67 L143.50,217.67 L144.00,217.67 L144.50,217.67 L145.00,217.67 L145.50,217.68 L146.00,217.68 L146.50,217.68 L147.00,217.68 L147.50,217.68 L148.00,217.68 L148.50,217.68 L149.00,217.68 L149.50,217.68 L150.00,217.68 L150.50,217.68 L151.00,217.68 L151.50,217.68 L152.00,217.68 L152.50,217.68 L153.00,217.68 L153.50,217.68 L154.00,217.68 L154.50,217.68 L155.00,217.68 L155.50,217.68 L156.00,217.68 L156.50,217.68 L157.00,217.68 L157.50,217.68 L158.00,217.68 L158.50,217.68 L159.00,217.68 L159.50,217.68 L160.00,217.68 L160.50,217.68 L161.00,217.68 L161.50,217.68 L162.00,217.68 L162.50,217.68 L163.00,217.68 L163.50,217.68 L164.00,217.68 L164.50,217.68 L165.00,217.68 L165.50,217.68 L166.00,217.68 L166.50,217.68 L167.00,217.68 L167.50,217.68 L168.00,217.68 L168.50,217.68 L169.00,217.68 L169.50,217.68 L170.00,217.68 L170.50,217.68 L171.00,217.68 L171.50,217.68 L172.00,217.68 L172.50,217.68 L173.00,217.68 L173.50,217.68 L174.00,217.68 L174.50,217.68 L175.00,217.68 L175.50,217.68 L176.00,217.68 L176.50,217.68 L177.00,217.68 L177.50,217.68 L178.00,217.68 L178.50,217.68 L179.00,217.68 L179.50,217.68 L180.00,217.68 L180.50,217.68 L181.00,217.68 L181.50,217.68 L182.00,217.68 L182.50,217.68 L183.00,217.68 L183.50,217.68 L184.00,217.68 L184.50,217.68 L185.00,217.68 L185.50,217.68 L186.00,217.68 L186.50,217.68 L187.00,217.68 L187.50,217.68 L188.00,217.68 L188.50,217.68 L189.00,217.68 L189.50,217.68 L190.00,217.68 L190.50,217.68 L191.00,217.68 L191.50,217.68 L192.00,217.68 L192.50,217.68 L193.00,217.68 L193.50,217.68 L194.00,217.68 L194.50,217.68 L195.00,217.68 L195.50,217.68 L196.00,217.68 L196.50,217.68 L197.00,217.68 L197.50,217.68 L198.00,217.68 L198.50,217.68 L199.00,217.68 L199.50,217.68 L200.00,217.68 L200.50,217.68 L201.00,217.68 L201.50,217.68 L202.00,217.68 L202.50,217.68 L203.00,217.68 L203.50,217.68 L204.00,217.68 L204.50,217.68 L205.00,217.68 L205.50,217.68 L206.00,217.68 L206.50,217.68 L207.00,217.68 L207.50,217.68 L208.00,217.68 L208.50,217.68 L209.00,217.68 L209.50,217.68 L210.00,217.68 L210.50,217.68 L211.00,217.68 L211.50,217.68 L212.00,217.68 L212.50,217.68 L213.00,217.68 L213.50,217.68 L214.00,217.68 L214.50,217.68 L215.00,217.68 L215.50,217.68 L216.00,217.68 L216.50,217.68 L217.00,217.68 L217.50,217.68 L218.00,217.68 L218.50,217.68 L219.00,217.68 L219.50,217.68 L220.00,217.68 L220.50,217.68 L221.00,217.68 L221.50,217.68 L222.00,217.68 L222.50,217.68 L223.00,217.68 L223.50,217.68 L224.00,217.68 L224.50,217.68 L225.00,217.68 L225.50,217.68 L226.00,217.68 L226.50,217.68 L227.00,217.68 L227.50,217.68 L228.00,217.68 L228.50,217.68 L229.00,217.68 L229.50,217.68 L230.00,217.68 L230.50,217.68 L231.00,217.68 L231.50,217.68 L232.00,217.68 L232.50,217.68 L233.00,217.68 L233.50,217.68 L234.00,217.68 L234.50,217.68 L235.00,217.68 L235.50,217.68 L236.00,217.68 L236.50,217.68 L237.00,217.68 L237.50,217.68 L238.00,217.68 L238.50,217.68 L239.00,217.68 L239.50,217.68 L240.00,217.68 L240.50,217.68 L241.00,217.68 L241.50,217.68 L242.00,217.68 L242.50,217.68 L243.00,217.68 L243.50,217.68 L244.00,217.68 L244.50,217.68 L245.00,217.68 L245.50,217.68 L246.00,217.68 L246.50,217.68 L247.00,217.68 L247.50,217.68 L248.00,217.68 L248.50,217.68 L249.00,217.68 L249.50,217.68 L250.00,217.68 L250.50,217.68 L251.00,217.68 L251.50,217.68 L252.00,217.68 L252.50,217.68 L253.00,217.68 L253.50,217.68 L254.00,217.68 L254.50,217.68 L255.00,217.68 L255.50,217.68 L256.00,217.68 L256.50,217.68 L257.00,217.68 L257.50,217.68 L258.00,217.68 L258.50,217.68 L259.00,217.68 L259.50,217.68 L260.00,217.68 L260.50,217.68 L261.00,217.68 L261.50,217.68 L262.00,217.68 L262.50,217.68 L263.00,217.68 L263.50,217.68 L264.00,217.68 L264.50,217.68 L265.00,217.68 L265.50,217.68 L266.00,217.68 L266.50,217.68 L267.00,217.68 L267.50,217.68 L268.00,217.68 L268.50,217.68 L269.00,217.68 L269.50,217.68 L270.00,217.68 L270.50,217.68 L271.00,217.68 L271.50,217.68 L272.00,217.68 L272.50,217.68 L273.00,217.68 L273.50,217.68 L274.00,217.68 L274.50,217.68 L275.00,217.68 L275.50,217.68 L276.00,217.68 L276.50,217.68 L277.00,217.68 L277.50,217.68 L278.00,217.68 L278.50,217.68 L279.00,217.68 L279.50,217.68 L280.00,217.68 L280.50,217.68 L281.00,217.68 L281.50,217.68 L282.00,217.68 L282.50,217.68 L283.00,217.68 L283.50,217.68 L284.00,217.68 L284.50,217.68 L285.00,217.68 L285.50,217.68 L285.90,217.68" fill="none" stroke="#3b93cf" stroke-width="1.5" stroke-linejoin="round"/>
<path d="M49.40,123.60 L49.50,124.44 L50.00,128.51 L50.50,132.40 L51.00,136.13 L51.50,139.69 L52.00,143.10 L52.50,146.36 L53.00,149.48 L53.50,152.46 L54.00,155.32 L54.50,158.05 L55.00,160.66 L55.50,163.15 L56.00,165.54 L56.50,167.83 L57.00,170.01 L57.50,172.10 L58.00,174.10 L58.50,176.01 L59.00,177.84 L59.50,179.59 L60.00,181.27 L60.50,182.87 L61.00,184.40 L61.50,185.86 L62.00,187.26 L62.50,188.60 L63.00,189.88 L63.50,191.11 L64.00,192.28 L64.50,193.40 L65.00,194.47 L65.50,195.50 L66.00,196.48 L66.50,197.42 L67.00,198.32 L67.50,199.18 L68.00,200.00 L68.50,200.78 L69.00,201.53 L69.50,202.25 L70.00,202.94 L70.50,203.59 L71.00,204.22 L71.50,204.82 L72.00,205.40 L72.50,205.95 L73.00,206.47 L73.50,206.97 L74.00,207.45 L74.50,207.91 L75.00,208.35 L75.50,208.77 L76.00,209.17 L76.50,209.55 L77.00,209.92 L77.50,210.27 L78.00,210.61 L78.50,210.93 L79.00,211.23 L79.50,211.52 L80.00,211.80 L80.50,212.07 L81.00,212.32 L81.50,212.57 L82.00,212.80 L82.50,213.02 L83.00,213.23 L83.50,213.43 L84.00,213.63 L84.50,213.81 L85.00,213.99 L85.50,214.15 L86.00,214.31 L86.50,214.47 L87.00,214.61 L87.50,214.75 L88.00,214.88 L88.50,215.01 L89.00,215.12 L89.50,215.24 L90.00,215.34 L90.50,215.45 L91.00,215.54 L91.50,215.63 L92.00,215.72 L92.50,215.80 L93.00,215.88 L93.50,215.95 L94.00,216.01 L94.50,216.08 L95.00,216.13 L95.50,216.19 L96.00,216.24 L96.50,216.29 L97.00,216.33 L97.50,216.38 L98.00,216.42 L98.50,216.46 L99.00,216.50 L99.50,216.53 L100.00,216.57 L100.50,216.60 L101.00,216.63 L101.50,216.66 L102.00,216.69 L102.50,216.72 L103.00,216.74 L103.50,216.77 L104.00,216.79 L104.50,216.81 L105.00,216.83 L105.50,216.85 L106.00,216.87 L106.50,216.89 L107.00,216.91 L107.50,216.92 L108.00,216.94 L108.50,216.95 L109.00,216.97 L109.50,216.98 L110.00,216.99 L110.50,217.01 L111.00,217.02 L111.50,217.03 L112.00,217.04 L112.50,217.05 L113.00,217.06 L113.50,217.07 L114.00,217.08 L114.50,217.09 L115.00,217.09 L115.50,217.10 L116.00,217.11 L116.50,217.12 L117.00,217.12 L117.50,217.13 L118.00,217.13 L118.50,217.14 L119.00,217.14 L119.50,217.15 L120.00,217.15 L120.50,217.16 L121.00,217.16 L121.50,217.16 L122.00,217.17 L122.50,217.17 L123.00,217.17 L123.50,217.18 L124.00,217.18 L124.50,217.18 L125.00,217.18 L125.50,217.18 L126.00,217.18 L126.50,217.18 L127.00,217.18 L127.50,217.18 L128.00,217.18 L128.50,217.18 L129.00,217.18 L129.50,217.18 L130.00,217.18 L130.50,217.18 L131.00,217.17 L131.50,217.17 L132.00,217.17 L132.50,217.17 L133.00,217.16 L133.50,217.16 L134.00,217.16 L134.50,217.16 L135.00,217.15 L135.50,217.15 L136.00,217.15 L136.50,217.15 L137.00,217.14 L137.50,217.14 L138.00,217.14 L138.50,217.14 L139.00,217.13 L139.50,217.13 L140.00,217.13 L140.50,217.12 L141.00,217.12 L141.50,217.12 L142.00,217.11 L142.50,217.11 L143.00,217.10 L143.50,217.10 L144.00,217.10 L144.50,217.09 L145.00,217.09 L145.50,217.08 L146.00,217.08 L146.50,217.08 L147.00,217.07 L147.50,217.07 L148.00,217.06 L148.50,217.06 L149.00,217.05 L149.50,217.05 L150.00,217.04 L150.50,217.04 L151.00,217.03 L151.50,217.02 L152.00,217.02 L152.50,217.01 L153.00,217.00 L153.50,217.00 L154.00,216.99 L154.50,216.98 L155.00,216.98 L155.50,216.97 L156.00,216.96 L156.50,216.95 L157.00,216.95 L157.50,216.94 L158.00,216.93 L158.50,216.92 L159.00,216.91 L159.50,216.90 L160.00,216.89 L160.50,216.89 L161.00,216.88 L161.50,216.87 L162.00,216.86 L162.50,216.85 L163.00,216.83 L163.50,216.82 L164.00,216.81 L164.50,216.80 L165.00,216.79 L165.50,216.78 L166.00,216.77 L166.50,216.75 L167.00,216.74 L167.50,216.73 L168.00,216.72 L168.50,216.70 L169.00,216.69 L169.50,216.68 L170.00,216.67 L170.50,216.65 L171.00,216.64 L171.50,216.63 L172.00,216.61 L172.50,216.60 L173.00,216.59 L173.50,216.57 L174.00,216.56 L174.50,216.54 L175.00,216.53 L175.50,216.52 L176.00,216.50 L176.50,216.49 L177.00,216.47 L177.50,216.46 L178.00,216.44 L178.50,216.43 L179.00,216.41 L179.50,216.40 L180.00,216.39 L180.50,216.37 L181.00,216.36 L181.50,216.34 L182.00,216.33 L182.50,216.31 L183.00,216.30 L183.50,216.28 L184.00,216.27 L184.50,216.25 L185.00,216.24 L185.50,216.23 L186.00,216.21 L186.50,216.20 L187.00,216.18 L187.50,216.17 L188.00,216.16 L188.50,216.14 L189.00,216.13 L189.50,216.11 L190.00,216.10 L190.50,216.09 L191.00,216.07 L191.50,216.06 L192.00,216.05 L192.50,216.03 L193.00,216.02 L193.50,216.00 L194.00,215.99 L194.50,215.98 L195.00,215.96 L195.50,215.95 L196.00,215.94 L196.50,215.92 L197.00,215.91 L197.50,215.90 L198.00,215.88 L198.50,215.87 L199.00,215.85 L199.50,215.84 L200.00,215.83 L200.50,215.81 L201.00,215.80 L201.50,215.79 L202.00,215.77 L202.50,215.76 L203.00,215.75 L203.50,215.73 L204.00,215.72 L204.50,215.70 L205.00,215.69 L205.50,215.68 L206.00,215.66 L206.50,215.65 L207.00,215.63 L207.50,215.62 L208.00,215.61 L208.50,215.59 L209.00,215.58 L209.50,215.56 L210.00,215.55 L210.50,215.53 L211.00,215.52 L211.50,215.50 L212.00,215.49 L212.50,215.47 L213.00,215.46 L213.50,215.44 L214.00,215.43 L214.50,215.42 L215.00,215.40 L215.50,215.38 L216.00,215.37 L216.50,215.36 L217.00,215.34 L217.50,215.33 L218.00,215.31 L218.50,215.30 L219.00,215.28 L219.50,215.27 L220.00,215.25 L220.50,215.24 L221.00,215.22 L221.50,215.21 L222.00,215.19 L222.50,215.18 L223.00,215.16 L223.50,215.15 L224.00,215.13 L224.50,215.12 L225.00,215.10 L225.50,215.09 L226.00,215.07 L226.50,215.06 L227.00,215.04 L227.50,215.02 L228.00,215.01 L228.50,214.99 L229.00,214.97 L229.50,214.96 L230.00,214.94 L230.50,214.92 L231.00,214.90 L231.50,214.89 L232.00,214.87 L232.50,214.85 L233.00,214.83 L233.50,214.81 L234.00,214.79 L234.50,214.77 L235.00,214.75 L235.50,214.73 L236.00,214.71 L236.50,214.69 L237.00,214.66 L237.50,214.64 L238.00,214.62 L238.50,214.59 L239.00,214.57 L239.50,214.55 L240.00,214.52 L240.50,214.50 L241.00,214.47 L241.50,214.45 L242.00,214.42 L242.50,214.39 L243.00,214.37 L243.50,214.34 L244.00,214.32 L244.50,214.29 L245.00,214.26 L245.50,214.24 L246.00,214.21 L246.50,214.18 L247.00,214.16 L247.50,214.13 L248.00,214.10 L248.50,214.08 L249.00,214.05 L249.50,214.03 L250.00,214.00 L250.50,213.97 L251.00,213.95 L251.50,213.92 L252.00,213.90 L252.50,213.87 L253.00,213.84 L253.50,213.82 L254.00,213.79 L254.50,213.76 L255.00,213.74 L255.50,213.71 L256.00,213.68 L256.50,213.66 L257.00,213.63 L257.50,213.60 L258.00,213.58 L258.50,213.55 L259.00,213.52 L259.50,213.50 L260.00,213.47 L260.50,213.44 L261.00,213.42 L261.50,213.39 L262.00,213.36 L262.50,213.34 L263.00,213.31 L263.50,213.28 L264.00,213.25 L264.50,213.23 L265.00,213.20 L265.50,213.17 L266.00,213.15 L266.50,213.12 L267.00,213.09 L267.50,213.06 L268.00,213.04 L268.50,213.01 L269.00,212.98 L269.50,212.95 L270.00,212.93 L270.50,212.90 L271.00,212.87 L271.50,212.84 L272.00,212.82 L272.50,212.79 L273.00,212.76 L273.50,212.73 L274.00,212.71 L274.50,212.68 L275.00,212.65 L275.50,212.62 L276.00,212.60 L276.50,212.57 L277.00,212.54 L277.50,212.51 L278.00,212.49 L278.50,212.46 L279.00,212.43 L279.50,212.40 L280.00,212.38 L280.50,212.35 L281.00,212.32 L281.50,212.29 L282.00,212.27 L282.50,212.24 L283.00,212.21 L283.50,212.18 L284.00,212.15 L284.50,212.13 L285.00,212.10 L285.50,212.07 L285.90,212.05" fill="none" stroke="#d83fa6" stroke-width="1.5" stroke-linejoin="round"/>
<path d="M37.4,217.5 H297.8" stroke="#000" stroke-width="1.3" stroke-dasharray="5.85 5.93" fill="none"/>
<path d="M86.5,217.5 V222.3" stroke="#000" stroke-width="1.1" fill="none"/><path d="M86.5,225.0 V226.8" stroke="#000" stroke-opacity="0.6" stroke-width="1.0" fill="none"/>
<path d="M107.9,217.5 V222.3" stroke="#000" stroke-width="1.1" fill="none"/><path d="M107.9,225.0 V226.8" stroke="#000" stroke-opacity="0.6" stroke-width="1.0" fill="none"/>
<path d="M37.4,20.6 V227.4 H297.8" stroke="#2b2b2b" stroke-width="1.05" fill="none"/>
<path d="M35,79.0 H37.4" stroke="#2b2b2b" stroke-width="0.6"/>
<text x="33.6" y="81.85" text-anchor="end" class="tk">200</text>
<path d="M35,148.7 H37.4" stroke="#2b2b2b" stroke-width="0.6"/>
<text x="33.6" y="151.55" text-anchor="end" class="tk">100</text>
<path d="M35,218.4 H37.4" stroke="#2b2b2b" stroke-width="0.6"/>
<text x="33.6" y="221.25" text-anchor="end" class="tk">0</text>
<rect x="14" y="142" width="14.3" height="14" fill="#fff"/>
<path d="M46.5,227.4 V230" stroke="#2b2b2b" stroke-width="0.6"/>
<text x="46.5" y="236.6" text-anchor="middle" class="tk">1</text>
<path d="M100.3,227.4 V230" stroke="#2b2b2b" stroke-width="0.6"/>
<text x="100.3" y="236.6" text-anchor="middle" class="tk">2</text>
<path d="M154.1,227.4 V230" stroke="#2b2b2b" stroke-width="0.6"/>
<text x="154.1" y="236.6" text-anchor="middle" class="tk">3</text>
<path d="M207.9,227.4 V230" stroke="#2b2b2b" stroke-width="0.6"/>
<text x="207.9" y="236.6" text-anchor="middle" class="tk">4</text>
<path d="M261.8,227.4 V230" stroke="#2b2b2b" stroke-width="0.6"/>
<text x="261.8" y="236.6" text-anchor="middle" class="tk">5</text>
<text x="87.7" y="236.9" text-anchor="middle" class="tkb" fill="#3b93cf" stroke="#3b93cf">1.74</text>
<text x="110.2" y="236.9" text-anchor="middle" class="tkb" fill="#d83fa6" stroke="#d83fa6">2.18</text>
<text x="28.8" y="8.8" class="b" font-size="12" textLength="37.7" lengthAdjust="spacingAndGlyphs">EP risk</text>
<text transform="translate(10.4,154.9) rotate(-90)" class="b" font-size="11.7" textLength="65.3" lengthAdjust="spacingAndGlyphs">HR (95%CI)</text>
<text y="251.8" class="b" font-size="11.7"><tspan x="92.9" textLength="83.8" lengthAdjust="spacingAndGlyphs">48h Serum HCG</tspan><tspan x="180.9" textLength="55.8" lengthAdjust="spacingAndGlyphs">rising ratio</tspan></text>
<text x="174.0" y="198.4" class="b" font-size="17.8" textLength="60.6" lengthAdjust="spacingAndGlyphs"><tspan font-style="italic">P</tspan>&lt;0.001</text>
<path d="M353.40,173.40 L353.50,173.82 L354.00,175.84 L354.50,177.77 L355.00,179.61 L355.50,181.37 L356.00,183.05 L356.50,184.65 L357.00,186.18 L357.50,187.64 L358.00,189.03 L358.50,190.35 L359.00,191.62 L359.50,192.83 L360.00,193.98 L360.50,195.08 L361.00,196.13 L361.50,197.13 L362.00,198.03 L362.50,198.88 L363.00,199.70 L363.50,200.49 L364.00,201.24 L364.50,201.96 L365.00,202.64 L365.50,203.30 L366.00,203.93 L366.50,204.53 L367.00,205.11 L367.50,205.66 L368.00,206.27 L368.50,206.89 L369.00,207.48 L369.50,208.04 L370.00,208.56 L370.50,209.06 L371.00,209.54 L371.50,209.99 L372.00,210.41 L372.50,210.75 L373.00,211.08 L373.50,211.39 L374.00,211.73 L374.50,212.10 L375.00,212.45 L375.50,212.78 L376.00,213.09 L376.50,213.38 L377.00,213.65 L377.50,213.90 L378.00,214.14 L378.50,214.36 L379.00,214.57 L379.50,214.77 L380.00,214.98 L380.50,215.27 L381.00,215.54 L381.50,215.77 L382.00,215.99 L382.50,216.18 L383.00,216.36 L383.50,216.51 L384.00,216.65 L384.10,216.68 L384.50,217.00 L385.00,217.00 L385.50,217.00 L386.00,217.00 L386.50,217.00 L387.00,217.00 L387.50,217.00 L388.00,217.00 L388.50,217.00 L389.00,217.00 L389.50,217.00 L390.00,217.00 L390.50,217.00 L391.00,217.00 L391.50,217.00 L392.00,217.00 L392.50,217.00 L393.00,217.00 L393.50,217.00 L394.00,217.00 L394.50,217.00 L395.00,217.00 L395.50,217.00 L396.00,217.01 L396.50,217.01 L397.00,217.01 L397.50,217.01 L398.00,217.01 L398.50,217.01 L399.00,217.01 L399.50,217.01 L400.00,217.01 L400.50,217.01 L401.00,217.01 L401.50,217.01 L402.00,217.01 L402.50,217.01 L403.00,217.01 L403.50,217.01 L404.00,217.01 L404.50,217.01 L405.00,217.01 L405.50,217.01 L406.00,217.01 L406.50,217.01 L407.00,217.01 L407.50,217.01 L408.00,217.01 L408.50,217.01 L409.00,217.01 L409.50,217.01 L410.00,217.01 L410.50,217.01 L411.00,217.01 L411.50,217.01 L412.00,217.01 L412.50,217.01 L413.00,217.01 L413.50,217.01 L414.00,217.01 L414.50,217.01 L415.00,217.01 L415.50,217.01 L416.00,217.01 L416.50,217.01 L417.00,217.01 L417.50,217.00 L418.00,217.00 L418.50,217.00 L419.00,217.00 L419.50,217.00 L420.00,217.00 L420.50,217.00 L421.00,217.00 L421.50,217.00 L422.00,217.00 L422.50,217.00 L423.00,217.00 L423.50,217.00 L424.00,217.00 L424.50,217.00 L425.00,217.00 L425.50,217.00 L426.00,217.00 L426.50,217.00 L427.00,217.00 L427.50,217.00 L428.00,217.00 L428.50,217.00 L429.00,217.00 L429.50,217.00 L430.00,217.00 L430.50,217.00 L431.00,217.00 L431.50,217.00 L432.00,217.01 L432.50,217.01 L433.00,217.01 L433.50,217.01 L434.00,217.01 L434.50,217.01 L435.00,217.01 L435.50,217.01 L436.00,217.01 L436.50,217.01 L437.00,217.02 L437.50,217.02 L438.00,217.02 L438.50,217.02 L439.00,217.02 L439.50,217.02 L440.00,217.02 L440.50,217.02 L441.00,217.02 L441.50,217.02 L442.00,217.02 L442.50,217.02 L443.00,217.02 L443.50,217.02 L444.00,217.02 L444.50,217.02 L445.00,217.03 L445.50,217.02 L446.00,217.02 L446.50,217.02 L447.00,217.02 L447.50,217.02 L448.00,217.02 L448.50,217.02 L449.00,217.02 L449.50,217.02 L450.00,217.02 L450.50,217.02 L451.00,217.02 L451.50,217.01 L452.00,217.01 L452.50,217.01 L453.00,217.01 L453.50,217.01 L454.00,217.00 L454.50,217.00 L455.00,217.00 L455.50,217.00 L456.00,216.99 L456.50,216.99 L457.00,216.99 L457.50,216.98 L458.00,216.98 L458.50,216.97 L459.00,216.97 L459.50,216.96 L460.00,216.96 L460.50,216.95 L461.00,216.95 L461.50,216.94 L462.00,216.94 L462.50,216.93 L463.00,216.92 L463.50,216.92 L464.00,216.91 L464.50,216.90 L465.00,216.89 L465.50,216.89 L466.00,216.88 L466.50,216.87 L467.00,216.86 L467.50,216.85 L468.00,216.84 L468.50,216.83 L469.00,216.82 L469.50,216.81 L470.00,216.80 L470.50,216.79 L471.00,216.78 L471.50,216.77 L472.00,216.76 L472.50,216.75 L473.00,216.74 L473.50,216.74 L474.00,216.73 L474.50,216.72 L475.00,216.71 L475.50,216.70 L476.00,216.70 L476.50,216.69 L477.00,216.68 L477.50,216.67 L478.00,216.67 L478.50,216.66 L479.00,216.65 L479.50,216.64 L480.00,216.63 L480.50,216.62 L481.00,216.61 L481.50,216.60 L482.00,216.58 L482.50,216.57 L483.00,216.56 L483.50,216.54 L484.00,216.52 L484.50,216.51 L485.00,216.49 L485.50,216.47 L486.00,216.45 L486.50,216.43 L487.00,216.40 L487.50,216.38 L488.00,216.35 L488.50,216.33 L489.00,216.30 L489.50,216.27 L490.00,216.23 L490.50,216.20 L491.00,216.16 L491.50,216.12 L492.00,216.08 L492.50,216.04 L493.00,216.00 L493.50,215.95 L494.00,215.90 L494.50,215.85 L495.00,215.80 L495.50,215.74 L496.00,215.68 L496.50,215.62 L497.00,215.55 L497.50,215.48 L498.00,215.40 L498.50,215.32 L499.00,215.24 L499.50,215.15 L500.00,215.06 L500.50,214.97 L501.00,214.88 L501.50,214.79 L502.00,214.69 L502.50,214.59 L503.00,214.50 L503.50,214.40 L504.00,214.30 L504.50,214.20 L505.00,214.10 L505.50,214.00 L506.00,213.89 L506.50,213.79 L507.00,213.70 L507.50,213.60 L508.00,213.50 L508.50,213.40 L509.00,213.30 L509.50,213.19 L510.00,213.09 L510.50,212.98 L511.00,212.86 L511.50,212.75 L512.00,212.64 L512.50,212.52 L513.00,212.41 L513.50,212.29 L514.00,212.18 L514.50,212.07 L515.00,211.96 L515.50,211.85 L516.00,211.75 L516.50,211.65 L517.00,211.55 L517.50,211.45 L518.00,211.36 L518.50,211.28 L519.00,211.20 L519.50,211.13 L520.00,211.06 L520.50,211.00 L521.00,210.94 L521.50,210.88 L522.00,210.83 L522.50,210.79 L523.00,210.74 L523.50,210.70 L524.00,210.66 L524.50,210.62 L525.00,210.58 L525.50,210.54 L526.00,210.50 L526.50,210.46 L527.00,210.42 L527.50,210.38 L528.00,210.34 L528.40,210.30 L528.40,217.70 L528.00,217.70 L527.50,217.70 L527.00,217.70 L526.50,217.70 L526.00,217.70 L525.50,217.70 L525.00,217.70 L524.50,217.70 L524.00,217.70 L523.50,217.70 L523.00,217.70 L522.50,217.70 L522.00,217.70 L521.50,217.70 L521.00,217.70 L520.50,217.70 L520.00,217.70 L519.50,217.70 L519.00,217.70 L518.50,217.70 L518.00,217.70 L517.50,217.70 L517.00,217.70 L516.50,217.70 L516.00,217.70 L515.50,217.70 L515.00,217.70 L514.50,217.70 L514.00,217.70 L513.50,217.70 L513.00,217.70 L512.50,217.70 L512.00,217.70 L511.50,217.70 L511.00,217.70 L510.50,217.70 L510.00,217.70 L509.50,217.70 L509.00,217.70 L508.50,217.70 L508.00,217.70 L507.50,217.70 L507.00,217.70 L506.50,217.70 L506.00,217.70 L505.50,217.70 L505.00,217.70 L504.50,217.70 L504.00,217.70 L503.50,217.70 L503.00,217.70 L502.50,217.70 L502.00,217.70 L501.50,217.70 L501.00,217.70 L500.50,217.70 L500.00,217.70 L499.50,217.70 L499.00,217.70 L498.50,217.70 L498.00,217.70 L497.50,217.70 L497.00,217.70 L496.50,217.70 L496.00,217.70 L495.50,217.70 L495.00,217.70 L494.50,217.70 L494.00,217.70 L493.50,217.70 L493.00,217.70 L492.50,217.70 L492.00,217.70 L491.50,217.70 L491.00,217.70 L490.50,217.70 L490.00,217.70 L489.50,217.70 L489.00,217.70 L488.50,217.70 L488.00,217.70 L487.50,217.70 L487.00,217.70 L486.50,217.70 L486.00,217.70 L485.50,217.70 L485.00,217.70 L484.50,217.70 L484.00,217.70 L483.50,217.70 L483.00,217.70 L482.50,217.70 L482.00,217.70 L481.50,217.70 L481.00,217.70 L480.50,217.70 L480.00,217.70 L479.50,217.70 L479.00,217.70 L478.50,217.70 L478.00,217.70 L477.50,217.70 L477.00,217.70 L476.50,217.70 L476.00,217.70 L475.50,217.70 L475.00,217.70 L474.50,217.70 L474.00,217.70 L473.50,217.70 L473.00,217.70 L472.50,217.70 L472.00,217.70 L471.50,217.70 L471.00,217.70 L470.50,217.70 L470.00,217.70 L469.50,217.70 L469.00,217.70 L468.50,217.70 L468.00,217.70 L467.50,217.70 L467.00,217.70 L466.50,217.70 L466.00,217.70 L465.50,217.70 L465.00,217.70 L464.50,217.70 L464.00,217.70 L463.50,217.70 L463.00,217.70 L462.50,217.70 L462.00,217.70 L461.50,217.70 L461.00,217.70 L460.50,217.70 L460.00,217.70 L459.50,217.70 L459.00,217.70 L458.50,217.70 L458.00,217.70 L457.50,217.70 L457.00,217.70 L456.50,217.70 L456.00,217.70 L455.50,217.70 L455.00,217.70 L454.50,217.70 L454.00,217.70 L453.50,217.70 L453.00,217.70 L452.50,217.70 L452.00,217.70 L451.50,217.70 L451.00,217.70 L450.50,217.70 L450.00,217.70 L449.50,217.70 L449.00,217.70 L448.50,217.70 L448.00,217.70 L447.50,217.70 L447.00,217.70 L446.50,217.70 L446.00,217.70 L445.50,217.70 L445.00,217.70 L444.50,217.70 L444.00,217.70 L443.50,217.70 L443.00,217.70 L442.50,217.70 L442.00,217.70 L441.50,217.70 L441.00,217.70 L440.50,217.70 L440.00,217.70 L439.50,217.70 L439.00,217.70 L438.50,217.70 L438.00,217.70 L437.50,217.70 L437.00,217.70 L436.50,217.70 L436.00,217.70 L435.50,217.70 L435.00,217.70 L434.50,217.70 L434.00,217.70 L433.50,217.70 L433.00,217.70 L432.50,217.70 L432.00,217.70 L431.50,217.70 L431.00,217.70 L430.50,217.70 L430.00,217.70 L429.50,217.70 L429.00,217.70 L428.50,217.70 L428.00,217.70 L427.50,217.70 L427.00,217.70 L426.50,217.70 L426.00,217.70 L425.50,217.70 L425.00,217.70 L424.50,217.70 L424.00,217.70 L423.50,217.70 L423.00,217.70 L422.50,217.70 L422.00,217.70 L421.50,217.70 L421.00,217.70 L420.50,217.70 L420.00,217.70 L419.50,217.70 L419.00,217.70 L418.50,217.70 L418.00,217.70 L417.50,217.70 L417.00,217.70 L416.50,217.70 L416.00,217.70 L415.50,217.70 L415.00,217.70 L414.50,217.70 L414.00,217.70 L413.50,217.70 L413.00,217.70 L412.50,217.70 L412.00,217.70 L411.50,217.70 L411.00,217.70 L410.50,217.70 L410.00,217.70 L409.50,217.70 L409.00,217.70 L408.50,217.70 L408.00,217.70 L407.50,217.70 L407.00,217.70 L406.50,217.70 L406.00,217.70 L405.50,217.70 L405.00,217.70 L404.50,217.70 L404.00,217.70 L403.50,217.70 L403.00,217.70 L402.50,217.70 L402.00,217.70 L401.50,217.70 L401.00,217.70 L400.50,217.70 L400.00,217.70 L399.50,217.70 L399.00,217.70 L398.50,217.70 L398.00,217.70 L397.50,217.70 L397.00,217.70 L396.50,217.70 L396.00,217.70 L395.50,217.70 L395.00,217.70 L394.50,217.70 L394.00,217.70 L393.50,217.70 L393.00,217.70 L392.50,217.70 L392.00,217.70 L391.50,217.70 L391.00,217.70 L390.50,217.70 L390.00,217.70 L389.50,217.70 L389.00,217.70 L388.50,217.70 L388.00,217.70 L387.50,217.70 L387.00,217.70 L386.50,217.70 L386.00,217.70 L385.50,217.70 L385.00,217.70 L384.50,217.70 L384.10,216.73 L384.00,216.74 L383.50,216.80 L383.00,216.85 L382.50,216.89 L382.00,216.94 L381.50,216.98 L381.00,217.02 L380.50,217.06 L380.00,217.10 L379.50,217.10 L379.00,217.10 L378.50,217.10 L378.00,217.09 L377.50,217.09 L377.00,217.08 L376.50,217.07 L376.00,217.07 L375.50,217.06 L375.00,217.06 L374.50,217.05 L374.00,217.04 L373.50,217.02 L373.00,217.00 L372.50,216.97 L372.00,216.95 L371.50,216.91 L371.00,216.88 L370.50,216.84 L370.00,216.80 L369.50,216.76 L369.00,216.72 L368.50,216.67 L368.00,216.63 L367.50,216.58 L367.00,216.51 L366.50,216.45 L366.00,216.38 L365.50,216.30 L365.00,216.23 L364.50,216.15 L364.00,216.07 L363.50,215.98 L363.00,215.89 L362.50,215.80 L362.00,215.70 L361.50,215.59 L361.00,215.49 L360.50,215.39 L360.00,215.28 L359.50,215.17 L359.00,215.05 L358.50,214.93 L358.00,214.80 L357.50,214.67 L357.00,214.53 L356.50,214.38 L356.00,214.23 L355.50,214.08 L355.00,213.91 L354.50,213.74 L354.00,213.57 L353.50,213.38 L353.40,213.35 Z" fill="#3b93cf" fill-opacity="0.15"/>
<path d="M353.20,29.00 L353.50,33.15 L354.00,43.13 L354.50,53.03 L355.00,61.96 L355.50,70.26 L356.00,78.09 L356.50,85.47 L357.00,92.42 L357.50,99.42 L358.00,106.27 L358.50,112.70 L359.00,118.74 L359.50,124.42 L360.00,129.75 L360.50,134.47 L361.00,138.85 L361.50,142.98 L362.00,146.89 L362.50,150.59 L363.00,154.08 L363.50,157.39 L364.00,160.52 L364.50,163.23 L365.00,165.46 L365.50,167.60 L366.00,169.64 L366.50,171.60 L367.00,173.48 L367.50,175.28 L368.00,177.00 L368.50,178.66 L369.00,180.25 L369.50,181.77 L370.00,183.23 L370.50,184.80 L371.00,186.29 L371.50,187.72 L372.00,189.09 L372.50,190.39 L373.00,191.64 L373.50,192.83 L374.00,193.97 L374.50,195.06 L375.00,196.10 L375.50,197.09 L376.00,198.04 L376.50,198.91 L377.00,199.75 L377.50,200.55 L378.00,201.32 L378.50,202.05 L379.00,202.75 L379.50,203.42 L380.00,204.07 L380.50,204.66 L381.00,205.22 L381.50,205.76 L382.00,206.28 L382.50,206.78 L383.00,207.26 L383.50,207.71 L384.00,208.15 L384.50,208.57 L385.00,208.97 L385.50,209.33 L386.00,209.67 L386.50,210.00 L387.00,210.31 L387.50,210.60 L388.00,210.88 L388.50,211.15 L389.00,211.41 L389.50,211.65 L390.00,211.88 L390.50,212.10 L391.00,212.32 L391.50,212.52 L392.00,212.71 L392.50,212.90 L393.00,213.07 L393.50,213.25 L394.00,213.41 L394.50,213.58 L395.00,213.74 L395.50,213.94 L396.00,214.12 L396.50,214.30 L397.00,214.48 L397.50,214.65 L398.00,214.80 L398.50,214.96 L399.00,215.10 L399.50,215.24 L400.00,215.37 L400.50,215.50 L401.00,215.62 L401.50,215.73 L402.00,215.83 L402.50,215.97 L403.00,216.10 L403.50,216.22 L404.00,216.33 L404.50,216.43 L405.00,216.51 L405.50,216.59 L406.00,216.66 L406.50,216.73 L407.00,216.79 L407.20,216.81 L407.50,216.99 L408.00,216.98 L408.50,216.97 L409.00,216.96 L409.50,216.95 L410.00,216.94 L410.50,216.93 L411.00,216.92 L411.50,216.91 L412.00,216.90 L412.50,216.89 L413.00,216.88 L413.50,216.87 L414.00,216.86 L414.50,216.85 L415.00,216.84 L415.50,216.83 L416.00,216.82 L416.50,216.81 L417.00,216.80 L417.50,216.79 L418.00,216.78 L418.50,216.77 L419.00,216.76 L419.50,216.75 L420.00,216.74 L420.50,216.73 L421.00,216.72 L421.50,216.71 L422.00,216.70 L422.50,216.69 L423.00,216.68 L423.50,216.66 L424.00,216.65 L424.50,216.64 L425.00,216.63 L425.50,216.62 L426.00,216.61 L426.50,216.59 L427.00,216.58 L427.50,216.57 L428.00,216.55 L428.50,216.54 L429.00,216.53 L429.50,216.51 L430.00,216.50 L430.50,216.49 L431.00,216.47 L431.50,216.46 L432.00,216.44 L432.50,216.43 L433.00,216.42 L433.50,216.40 L434.00,216.39 L434.50,216.38 L435.00,216.36 L435.50,216.35 L436.00,216.34 L436.50,216.32 L437.00,216.31 L437.50,216.30 L438.00,216.28 L438.50,216.27 L439.00,216.25 L439.50,216.24 L440.00,216.22 L440.50,216.21 L441.00,216.19 L441.50,216.17 L442.00,216.16 L442.50,216.14 L443.00,216.12 L443.50,216.10 L444.00,216.08 L444.50,216.06 L445.00,216.04 L445.50,216.02 L446.00,216.00 L446.50,215.98 L447.00,215.96 L447.50,215.93 L448.00,215.91 L448.50,215.88 L449.00,215.86 L449.50,215.83 L450.00,215.80 L450.50,215.77 L451.00,215.74 L451.50,215.70 L452.00,215.67 L452.50,215.63 L453.00,215.59 L453.50,215.55 L454.00,215.51 L454.50,215.47 L455.00,215.43 L455.50,215.39 L456.00,215.34 L456.50,215.30 L457.00,215.25 L457.50,215.21 L458.00,215.17 L458.50,215.12 L459.00,215.08 L459.50,215.04 L460.00,215.00 L460.50,214.95 L461.00,214.91 L461.50,214.86 L462.00,214.81 L462.50,214.76 L463.00,214.71 L463.50,214.66 L464.00,214.61 L464.50,214.56 L465.00,214.51 L465.50,214.45 L466.00,214.40 L466.50,214.34 L467.00,214.29 L467.50,214.23 L468.00,214.17 L468.50,214.11 L469.00,214.05 L469.50,213.99 L470.00,213.93 L470.50,213.87 L471.00,213.80 L471.50,213.74 L472.00,213.67 L472.50,213.61 L473.00,213.54 L473.50,213.47 L474.00,213.40 L474.50,213.33 L475.00,213.26 L475.50,213.19 L476.00,213.11 L476.50,213.04 L477.00,212.96 L477.50,212.88 L478.00,212.81 L478.50,212.73 L479.00,212.64 L479.50,212.56 L480.00,212.48 L480.50,212.39 L481.00,212.31 L481.50,212.22 L482.00,212.13 L482.50,212.04 L483.00,211.95 L483.50,211.86 L484.00,211.76 L484.50,211.67 L485.00,211.57 L485.50,211.47 L486.00,211.37 L486.50,211.27 L487.00,211.16 L487.50,211.06 L488.00,210.95 L488.50,210.84 L489.00,210.73 L489.50,210.62 L490.00,210.51 L490.50,210.39 L491.00,210.28 L491.50,210.16 L492.00,210.04 L492.50,209.92 L493.00,209.79 L493.50,209.67 L494.00,209.54 L494.50,209.41 L495.00,209.28 L495.50,209.14 L496.00,209.01 L496.50,208.87 L497.00,208.73 L497.50,208.58 L498.00,208.44 L498.50,208.29 L499.00,208.14 L499.50,207.99 L500.00,207.84 L500.50,207.68 L501.00,207.52 L501.50,207.36 L502.00,207.20 L502.50,207.03 L503.00,206.86 L503.50,206.69 L504.00,206.52 L504.50,206.34 L505.00,206.16 L505.50,205.98 L506.00,205.80 L506.50,205.61 L507.00,205.42 L507.50,205.23 L508.00,205.03 L508.50,204.83 L509.00,204.63 L509.50,204.42 L510.00,204.21 L510.50,204.00 L511.00,203.79 L511.50,203.57 L512.00,203.35 L512.50,203.12 L513.00,202.89 L513.50,202.66 L514.00,202.43 L514.50,202.19 L515.00,201.94 L515.50,201.63 L516.00,201.31 L516.50,200.99 L517.00,200.66 L517.50,200.32 L518.00,199.98 L518.50,199.63 L519.00,199.27 L519.50,198.91 L520.00,198.54 L520.50,198.16 L521.00,197.77 L521.50,197.38 L522.00,196.98 L522.50,196.57 L523.00,196.15 L523.50,195.73 L524.00,195.29 L524.50,194.85 L525.00,194.40 L525.50,193.94 L526.00,193.48 L526.50,193.00 L527.00,192.51 L527.50,192.02 L528.00,191.51 L528.40,191.10 L528.40,217.40 L528.00,217.40 L527.50,217.40 L527.00,217.40 L526.50,217.40 L526.00,217.40 L525.50,217.40 L525.00,217.40 L524.50,217.40 L524.00,217.40 L523.50,217.40 L523.00,217.40 L522.50,217.40 L522.00,217.40 L521.50,217.40 L521.00,217.40 L520.50,217.40 L520.00,217.40 L519.50,217.40 L519.00,217.40 L518.50,217.40 L518.00,217.40 L517.50,217.40 L517.00,217.40 L516.50,217.40 L516.00,217.40 L515.50,217.40 L515.00,217.40 L514.50,217.40 L514.00,217.40 L513.50,217.40 L513.00,217.40 L512.50,217.40 L512.00,217.40 L511.50,217.40 L511.00,217.40 L510.50,217.40 L510.00,217.40 L509.50,217.40 L509.00,217.40 L508.50,217.40 L508.00,217.40 L507.50,217.40 L507.00,217.40 L506.50,217.40 L506.00,217.40 L505.50,217.40 L505.00,217.40 L504.50,217.40 L504.00,217.40 L503.50,217.40 L503.00,217.40 L502.50,217.40 L502.00,217.40 L501.50,217.40 L501.00,217.40 L500.50,217.40 L500.00,217.40 L499.50,217.40 L499.00,217.40 L498.50,217.40 L498.00,217.40 L497.50,217.40 L497.00,217.40 L496.50,217.40 L496.00,217.40 L495.50,217.40 L495.00,217.40 L494.50,217.40 L494.00,217.40 L493.50,217.40 L493.00,217.40 L492.50,217.40 L492.00,217.40 L491.50,217.40 L491.00,217.40 L490.50,217.40 L490.00,217.40 L489.50,217.40 L489.00,217.40 L488.50,217.40 L488.00,217.40 L487.50,217.40 L487.00,217.40 L486.50,217.40 L486.00,217.40 L485.50,217.40 L485.00,217.40 L484.50,217.40 L484.00,217.40 L483.50,217.40 L483.00,217.40 L482.50,217.40 L482.00,217.40 L481.50,217.40 L481.00,217.40 L480.50,217.40 L480.00,217.40 L479.50,217.40 L479.00,217.40 L478.50,217.40 L478.00,217.40 L477.50,217.40 L477.00,217.40 L476.50,217.40 L476.00,217.40 L475.50,217.40 L475.00,217.40 L474.50,217.40 L474.00,217.40 L473.50,217.40 L473.00,217.40 L472.50,217.40 L472.00,217.40 L471.50,217.40 L471.00,217.40 L470.50,217.40 L470.00,217.40 L469.50,217.40 L469.00,217.40 L468.50,217.40 L468.00,217.40 L467.50,217.40 L467.00,217.40 L466.50,217.40 L466.00,217.40 L465.50,217.40 L465.00,217.40 L464.50,217.40 L464.00,217.40 L463.50,217.40 L463.00,217.40 L462.50,217.40 L462.00,217.40 L461.50,217.40 L461.00,217.40 L460.50,217.40 L460.00,217.40 L459.50,217.40 L459.00,217.40 L458.50,217.40 L458.00,217.40 L457.50,217.40 L457.00,217.40 L456.50,217.40 L456.00,217.40 L455.50,217.40 L455.00,217.40 L454.50,217.40 L454.00,217.40 L453.50,217.40 L453.00,217.40 L452.50,217.40 L452.00,217.40 L451.50,217.40 L451.00,217.40 L450.50,217.40 L450.00,217.40 L449.50,217.40 L449.00,217.40 L448.50,217.40 L448.00,217.40 L447.50,217.40 L447.00,217.40 L446.50,217.40 L446.00,217.40 L445.50,217.40 L445.00,217.40 L444.50,217.40 L444.00,217.40 L443.50,217.40 L443.00,217.40 L442.50,217.40 L442.00,217.40 L441.50,217.40 L441.00,217.40 L440.50,217.40 L440.00,217.40 L439.50,217.40 L439.00,217.40 L438.50,217.40 L438.00,217.40 L437.50,217.40 L437.00,217.40 L436.50,217.40 L436.00,217.40 L435.50,217.40 L435.00,217.40 L434.50,217.40 L434.00,217.40 L433.50,217.40 L433.00,217.40 L432.50,217.40 L432.00,217.40 L431.50,217.40 L431.00,217.40 L430.50,217.40 L430.00,217.40 L429.50,217.40 L429.00,217.40 L428.50,217.40 L428.00,217.40 L427.50,217.40 L427.00,217.40 L426.50,217.40 L426.00,217.40 L425.50,217.40 L425.00,217.40 L424.50,217.40 L424.00,217.40 L423.50,217.40 L423.00,217.40 L422.50,217.40 L422.00,217.40 L421.50,217.40 L421.00,217.40 L420.50,217.40 L420.00,217.40 L419.50,217.40 L419.00,217.40 L418.50,217.40 L418.00,217.40 L417.50,217.40 L417.00,217.40 L416.50,217.40 L416.00,217.40 L415.50,217.40 L415.00,217.40 L414.50,217.40 L414.00,217.40 L413.50,217.40 L413.00,217.40 L412.50,217.40 L412.00,217.40 L411.50,217.40 L411.00,217.40 L410.50,217.40 L410.00,217.40 L409.50,217.40 L409.00,217.40 L408.50,217.40 L408.00,217.40 L407.50,217.40 L407.20,216.86 L407.00,216.87 L406.50,216.88 L406.00,216.90 L405.50,216.91 L405.00,216.92 L404.50,216.93 L404.00,216.93 L403.50,216.93 L403.00,216.93 L402.50,216.93 L402.00,216.92 L401.50,216.90 L401.00,216.87 L400.50,216.84 L400.00,216.80 L399.50,216.77 L399.00,216.74 L398.50,216.70 L398.00,216.66 L397.50,216.63 L397.00,216.59 L396.50,216.55 L396.00,216.51 L395.50,216.47 L395.00,216.43 L394.50,216.38 L394.00,216.33 L393.50,216.28 L393.00,216.23 L392.50,216.18 L392.00,216.12 L391.50,216.07 L391.00,216.01 L390.50,215.95 L390.00,215.88 L389.50,215.81 L389.00,215.74 L388.50,215.67 L388.00,215.59 L387.50,215.51 L387.00,215.43 L386.50,215.34 L386.00,215.25 L385.50,215.15 L385.00,215.06 L384.50,214.95 L384.00,214.85 L383.50,214.74 L383.00,214.63 L382.50,214.51 L382.00,214.39 L381.50,214.27 L381.00,214.14 L380.50,214.01 L380.00,213.87 L379.50,213.72 L379.00,213.57 L378.50,213.41 L378.00,213.24 L377.50,213.04 L377.00,212.83 L376.50,212.62 L376.00,212.40 L375.50,212.16 L375.00,211.92 L374.50,211.67 L374.00,211.41 L373.50,211.13 L373.00,210.85 L372.50,210.56 L372.00,210.25 L371.50,209.97 L371.00,209.68 L370.50,209.39 L370.00,209.08 L369.50,208.76 L369.00,208.42 L368.50,208.08 L368.00,207.72 L367.50,207.35 L367.00,206.97 L366.50,206.64 L366.00,206.31 L365.50,205.96 L365.00,205.60 L364.50,205.23 L364.00,204.85 L363.50,204.40 L363.00,203.94 L362.50,203.45 L362.00,202.95 L361.50,202.42 L361.00,201.88 L360.50,201.31 L360.00,200.71 L359.50,200.08 L359.00,199.42 L358.50,198.73 L358.00,198.01 L357.50,197.26 L357.00,196.48 L356.50,195.67 L356.00,194.75 L355.50,193.78 L355.00,192.77 L354.50,191.71 L354.00,190.59 L353.50,189.51 L353.20,188.84 Z" fill="#d83fa6" fill-opacity="0.15"/>
<path d="M347.20,193.20 L347.50,193.84 L348.00,194.88 L348.50,195.87 L349.00,196.82 L349.50,197.73 L350.00,198.59 L350.50,199.43 L351.00,200.22 L351.50,200.98 L352.00,201.71 L352.50,202.41 L353.00,203.08 L353.50,203.72 L354.00,204.33 L354.50,204.92 L355.00,205.48 L355.50,206.01 L356.00,206.53 L356.50,207.02 L357.00,207.49 L357.50,207.94 L358.00,208.37 L358.50,208.78 L359.00,209.18 L359.50,209.56 L360.00,209.92 L360.50,210.26 L361.00,210.60 L361.50,210.91 L362.00,211.22 L362.50,211.51 L363.00,211.79 L363.50,212.05 L364.00,212.31 L364.50,212.55 L365.00,212.78 L365.50,213.01 L366.00,213.22 L366.50,213.43 L367.00,213.62 L367.50,213.81 L368.00,213.99 L368.50,214.16 L369.00,214.33 L369.50,214.48 L370.00,214.63 L370.50,214.78 L371.00,214.92 L371.50,215.05 L372.00,215.18 L372.50,215.27 L373.00,215.37 L373.50,215.46 L374.00,215.55 L374.50,215.63 L375.00,215.71 L375.50,215.79 L376.00,215.86 L376.50,215.93 L377.00,216.00 L377.50,216.06 L378.00,216.13 L378.50,216.19 L379.00,216.24 L379.50,216.30 L380.00,216.35 L380.50,216.40 L381.00,216.45 L381.50,216.50 L382.00,216.54 L382.50,216.58 L383.00,216.62 L383.50,216.66 L384.00,216.70 L384.50,216.73 L385.00,216.77 L385.50,216.80 L386.00,216.83 L386.50,216.86 L387.00,216.89 L387.50,216.92 L388.00,216.95 L388.50,216.97 L389.00,217.00 L389.50,217.02 L390.00,217.04 L390.50,217.06 L391.00,217.08 L391.50,217.10 L392.00,217.12 L392.50,217.14 L393.00,217.16 L393.50,217.17 L394.00,217.19 L394.50,217.20 L395.00,217.22 L395.50,217.23 L396.00,217.25 L396.50,217.26 L397.00,217.27 L397.50,217.28 L398.00,217.29 L398.50,217.30 L399.00,217.31 L399.50,217.32 L400.00,217.33 L400.50,217.34 L401.00,217.35 L401.50,217.36 L402.00,217.37 L402.50,217.38 L403.00,217.38 L403.50,217.39 L404.00,217.40 L404.50,217.40 L405.00,217.41 L405.50,217.42 L406.00,217.42 L406.50,217.43 L407.00,217.43 L407.50,217.44 L408.00,217.44 L408.50,217.45 L409.00,217.45 L409.50,217.45 L410.00,217.46 L410.50,217.46 L411.00,217.47 L411.50,217.47 L412.00,217.47 L412.50,217.48 L413.00,217.48 L413.50,217.48 L414.00,217.49 L414.50,217.49 L415.00,217.49 L415.50,217.49 L416.00,217.50 L416.50,217.50 L417.00,217.50 L417.50,217.50 L418.00,217.50 L418.50,217.51 L419.00,217.51 L419.50,217.51 L420.00,217.51 L420.50,217.51 L421.00,217.51 L421.50,217.52 L422.00,217.52 L422.50,217.52 L423.00,217.52 L423.50,217.52 L424.00,217.52 L424.50,217.52 L425.00,217.53 L425.50,217.53 L426.00,217.53 L426.50,217.53 L427.00,217.53 L427.50,217.53 L428.00,217.53 L428.50,217.53 L429.00,217.53 L429.50,217.53 L430.00,217.53 L430.50,217.53 L431.00,217.54 L431.50,217.54 L432.00,217.54 L432.50,217.54 L433.00,217.54 L433.50,217.54 L434.00,217.54 L434.50,217.54 L435.00,217.54 L435.50,217.54 L436.00,217.54 L436.50,217.54 L437.00,217.54 L437.50,217.54 L438.00,217.54 L438.50,217.54 L439.00,217.54 L439.50,217.54 L440.00,217.54 L440.50,217.54 L441.00,217.54 L441.50,217.54 L442.00,217.54 L442.50,217.54 L443.00,217.54 L443.50,217.54 L444.00,217.55 L444.50,217.55 L445.00,217.55 L445.50,217.55 L446.00,217.55 L446.50,217.55 L447.00,217.55 L447.50,217.55 L448.00,217.55 L448.50,217.55 L449.00,217.55 L449.50,217.55 L450.00,217.55 L450.50,217.55 L451.00,217.55 L451.50,217.55 L452.00,217.55 L452.50,217.55 L453.00,217.55 L453.50,217.55 L454.00,217.55 L454.50,217.55 L455.00,217.55 L455.50,217.55 L456.00,217.55 L456.50,217.55 L457.00,217.55 L457.50,217.55 L458.00,217.55 L458.50,217.55 L459.00,217.55 L459.50,217.55 L460.00,217.55 L460.50,217.55 L461.00,217.55 L461.50,217.55 L462.00,217.55 L462.50,217.55 L463.00,217.55 L463.50,217.55 L464.00,217.55 L464.50,217.55 L465.00,217.55 L465.50,217.55 L466.00,217.55 L466.50,217.55 L467.00,217.55 L467.50,217.55 L468.00,217.55 L468.50,217.55 L469.00,217.55 L469.50,217.55 L470.00,217.55 L470.50,217.55 L471.00,217.55 L471.50,217.55 L472.00,217.55 L472.50,217.55 L473.00,217.55 L473.50,217.55 L474.00,217.55 L474.50,217.55 L475.00,217.55 L475.50,217.55 L476.00,217.55 L476.50,217.55 L477.00,217.55 L477.50,217.55 L478.00,217.55 L478.50,217.55 L479.00,217.55 L479.50,217.55 L480.00,217.55 L480.50,217.55 L481.00,217.55 L481.50,217.55 L482.00,217.55 L482.50,217.55 L483.00,217.55 L483.50,217.55 L484.00,217.55 L484.50,217.55 L485.00,217.55 L485.50,217.55 L486.00,217.55 L486.50,217.55 L487.00,217.55 L487.50,217.55 L488.00,217.55 L488.50,217.55 L489.00,217.55 L489.50,217.55 L490.00,217.55 L490.50,217.55 L491.00,217.55 L491.50,217.55 L492.00,217.55 L492.50,217.55 L493.00,217.55 L493.50,217.55 L494.00,217.55 L494.50,217.55 L495.00,217.55 L495.50,217.55 L496.00,217.55 L496.50,217.55 L497.00,217.55 L497.50,217.55 L498.00,217.55 L498.50,217.55 L499.00,217.55 L499.50,217.55 L500.00,217.55 L500.50,217.55 L501.00,217.55 L501.50,217.55 L502.00,217.55 L502.50,217.55 L503.00,217.55 L503.50,217.55 L504.00,217.55 L504.50,217.55 L505.00,217.55 L505.50,217.55 L506.00,217.55 L506.50,217.55 L507.00,217.55 L507.50,217.55 L508.00,217.55 L508.50,217.55 L509.00,217.55 L509.50,217.55 L510.00,217.55 L510.50,217.55 L511.00,217.55 L511.50,217.55 L512.00,217.55 L512.50,217.55 L513.00,217.55 L513.50,217.55 L514.00,217.55 L514.50,217.55 L515.00,217.55 L515.50,217.55 L516.00,217.55 L516.50,217.55 L517.00,217.55 L517.50,217.55 L518.00,217.55 L518.50,217.55 L519.00,217.55 L519.50,217.55 L520.00,217.55 L520.50,217.55 L521.00,217.55 L521.50,217.55 L522.00,217.55 L522.50,217.55 L523.00,217.55 L523.50,217.55 L524.00,217.55 L524.50,217.55 L525.00,217.55 L525.50,217.55 L526.00,217.55 L526.50,217.55 L527.00,217.55 L527.50,217.55 L528.00,217.55 L528.50,217.55 L529.00,217.55 L529.50,217.55 L530.00,217.55 L530.50,217.55 L531.00,217.55 L531.50,217.55 L532.00,217.55 L532.50,217.55 L533.00,217.55 L533.50,217.55 L534.00,217.55 L534.50,217.55 L535.00,217.55 L535.50,217.55 L536.00,217.55 L536.50,217.55 L537.00,217.55 L537.50,217.55 L538.00,217.55 L538.50,217.55 L539.00,217.55 L539.50,217.55 L540.00,217.55 L540.50,217.55 L541.00,217.55 L541.50,217.55 L542.00,217.55 L542.50,217.55 L543.00,217.55 L543.50,217.55 L544.00,217.55 L544.50,217.55 L545.00,217.55 L545.50,217.55 L546.00,217.55 L546.50,217.55 L547.00,217.55 L547.50,217.55 L548.00,217.55 L548.50,217.55 L549.00,217.55 L549.50,217.55 L550.00,217.55 L550.50,217.55 L551.00,217.55 L551.50,217.55 L552.00,217.55 L552.50,217.55 L553.00,217.55 L553.50,217.55 L554.00,217.55 L554.50,217.55 L555.00,217.55 L555.50,217.55 L556.00,217.55 L556.50,217.55 L557.00,217.55 L557.50,217.55 L558.00,217.55 L558.50,217.55 L559.00,217.55 L559.50,217.55 L560.00,217.55 L560.50,217.55 L561.00,217.55 L561.50,217.55 L562.00,217.55 L562.50,217.55 L563.00,217.55 L563.50,217.55 L564.00,217.55 L564.50,217.55 L565.00,217.55 L565.50,217.55 L566.00,217.55 L566.50,217.55 L567.00,217.55 L567.50,217.55 L568.00,217.55 L568.50,217.55 L569.00,217.55 L569.50,217.55 L570.00,217.55 L570.50,217.55 L571.00,217.55 L571.50,217.55 L572.00,217.55 L572.50,217.55 L573.00,217.55 L573.50,217.55 L574.00,217.55 L574.50,217.55 L575.00,217.55 L575.50,217.55 L576.00,217.55 L576.50,217.55 L577.00,217.55 L577.50,217.55 L578.00,217.55 L578.50,217.55 L579.00,217.55 L579.50,217.55 L580.00,217.55 L580.50,217.55 L581.00,217.55 L581.50,217.55 L582.00,217.55 L582.50,217.55 L583.00,217.55 L583.50,217.55 L583.60,217.55" fill="none" stroke="#3b93cf" stroke-width="1.5" stroke-linejoin="round"/>
<path d="M347.55,86.07 L348.00,91.72 L348.50,97.67 L349.00,103.30 L349.50,108.63 L350.00,113.67 L350.50,118.45 L351.00,122.98 L351.50,127.27 L352.00,131.34 L352.50,135.21 L353.00,138.88 L353.50,142.36 L354.00,145.67 L354.50,149.04 L355.00,152.22 L355.50,155.24 L356.00,158.11 L356.50,160.83 L357.00,163.41 L357.50,165.86 L358.00,168.19 L358.50,170.41 L359.00,172.52 L359.50,174.52 L360.00,176.43 L360.50,178.25 L361.00,179.98 L361.50,181.63 L362.00,183.20 L362.50,184.70 L363.00,186.13 L363.50,187.50 L364.00,188.80 L364.50,189.97 L365.00,191.09 L365.50,192.16 L366.00,193.18 L366.50,194.17 L367.00,195.11 L367.50,196.02 L368.00,196.89 L368.50,197.72 L369.00,198.52 L369.50,199.29 L370.00,200.03 L370.50,200.74 L371.00,201.42 L371.50,202.07 L372.00,202.70 L372.50,203.31 L373.00,203.89 L373.50,204.45 L374.00,204.99 L374.50,205.50 L375.00,206.00 L375.50,206.48 L376.00,206.94 L376.50,207.38 L377.00,207.80 L377.50,208.21 L378.00,208.61 L378.50,208.98 L379.00,209.35 L379.50,209.70 L380.00,210.03 L380.50,210.34 L381.00,210.64 L381.50,210.92 L382.00,211.19 L382.50,211.46 L383.00,211.71 L383.50,211.96 L384.00,212.19 L384.50,212.42 L385.00,212.63 L385.50,212.84 L386.00,213.04 L386.50,213.23 L387.00,213.41 L387.50,213.58 L388.00,213.74 L388.50,213.90 L389.00,214.05 L389.50,214.19 L390.00,214.33 L390.50,214.46 L391.00,214.58 L391.50,214.70 L392.00,214.81 L392.50,214.92 L393.00,215.02 L393.50,215.13 L394.00,215.22 L394.50,215.32 L395.00,215.42 L395.50,215.51 L396.00,215.60 L396.50,215.69 L397.00,215.77 L397.50,215.85 L398.00,215.93 L398.50,216.01 L399.00,216.09 L399.50,216.16 L400.00,216.23 L400.50,216.29 L401.00,216.36 L401.50,216.42 L402.00,216.47 L402.50,216.53 L403.00,216.58 L403.50,216.62 L404.00,216.66 L404.50,216.70 L405.00,216.73 L405.50,216.76 L406.00,216.79 L406.50,216.81 L407.00,216.83 L407.50,216.85 L408.00,216.86 L408.50,216.87 L409.00,216.88 L409.50,216.89 L410.00,216.90 L410.50,216.91 L411.00,216.92 L411.50,216.93 L412.00,216.94 L412.50,216.95 L413.00,216.96 L413.50,216.97 L414.00,216.98 L414.50,216.98 L415.00,216.99 L415.50,217.00 L416.00,217.00 L416.50,217.01 L417.00,217.02 L417.50,217.02 L418.00,217.03 L418.50,217.03 L419.00,217.04 L419.50,217.04 L420.00,217.04 L420.50,217.05 L421.00,217.05 L421.50,217.05 L422.00,217.06 L422.50,217.06 L423.00,217.06 L423.50,217.06 L424.00,217.06 L424.50,217.06 L425.00,217.06 L425.50,217.06 L426.00,217.06 L426.50,217.06 L427.00,217.06 L427.50,217.05 L428.00,217.05 L428.50,217.05 L429.00,217.05 L429.50,217.05 L430.00,217.05 L430.50,217.05 L431.00,217.05 L431.50,217.05 L432.00,217.04 L432.50,217.04 L433.00,217.04 L433.50,217.04 L434.00,217.03 L434.50,217.03 L435.00,217.03 L435.50,217.03 L436.00,217.02 L436.50,217.02 L437.00,217.02 L437.50,217.01 L438.00,217.01 L438.50,217.00 L439.00,217.00 L439.50,216.99 L440.00,216.98 L440.50,216.98 L441.00,216.97 L441.50,216.96 L442.00,216.96 L442.50,216.95 L443.00,216.94 L443.50,216.93 L444.00,216.93 L444.50,216.92 L445.00,216.91 L445.50,216.90 L446.00,216.90 L446.50,216.89 L447.00,216.88 L447.50,216.87 L448.00,216.87 L448.50,216.86 L449.00,216.85 L449.50,216.84 L450.00,216.83 L450.50,216.82 L451.00,216.81 L451.50,216.81 L452.00,216.80 L452.50,216.79 L453.00,216.78 L453.50,216.77 L454.00,216.76 L454.50,216.75 L455.00,216.74 L455.50,216.73 L456.00,216.72 L456.50,216.71 L457.00,216.70 L457.50,216.69 L458.00,216.68 L458.50,216.67 L459.00,216.66 L459.50,216.65 L460.00,216.64 L460.50,216.62 L461.00,216.61 L461.50,216.60 L462.00,216.59 L462.50,216.58 L463.00,216.57 L463.50,216.55 L464.00,216.54 L464.50,216.53 L465.00,216.52 L465.50,216.50 L466.00,216.49 L466.50,216.48 L467.00,216.47 L467.50,216.45 L468.00,216.44 L468.50,216.43 L469.00,216.41 L469.50,216.40 L470.00,216.38 L470.50,216.37 L471.00,216.35 L471.50,216.34 L472.00,216.33 L472.50,216.31 L473.00,216.29 L473.50,216.28 L474.00,216.26 L474.50,216.25 L475.00,216.23 L475.50,216.22 L476.00,216.20 L476.50,216.18 L477.00,216.17 L477.50,216.15 L478.00,216.13 L478.50,216.11 L479.00,216.10 L479.50,216.08 L480.00,216.06 L480.50,216.04 L481.00,216.03 L481.50,216.01 L482.00,215.99 L482.50,215.97 L483.00,215.95 L483.50,215.93 L484.00,215.92 L484.50,215.90 L485.00,215.88 L485.50,215.86 L486.00,215.84 L486.50,215.82 L487.00,215.80 L487.50,215.78 L488.00,215.76 L488.50,215.74 L489.00,215.72 L489.50,215.70 L490.00,215.68 L490.50,215.67 L491.00,215.65 L491.50,215.63 L492.00,215.61 L492.50,215.59 L493.00,215.57 L493.50,215.55 L494.00,215.53 L494.50,215.51 L495.00,215.49 L495.50,215.47 L496.00,215.45 L496.50,215.42 L497.00,215.40 L497.50,215.38 L498.00,215.36 L498.50,215.34 L499.00,215.32 L499.50,215.30 L500.00,215.28 L500.50,215.26 L501.00,215.24 L501.50,215.22 L502.00,215.20 L502.50,215.18 L503.00,215.16 L503.50,215.14 L504.00,215.12 L504.50,215.11 L505.00,215.09 L505.50,215.07 L506.00,215.05 L506.50,215.03 L507.00,215.01 L507.50,214.99 L508.00,214.97 L508.50,214.95 L509.00,214.93 L509.50,214.91 L510.00,214.89 L510.50,214.87 L511.00,214.85 L511.50,214.83 L512.00,214.81 L512.50,214.79 L513.00,214.76 L513.50,214.74 L514.00,214.72 L514.50,214.70 L515.00,214.68 L515.50,214.66 L516.00,214.64 L516.50,214.61 L517.00,214.59 L517.50,214.57 L518.00,214.54 L518.50,214.52 L519.00,214.50 L519.50,214.47 L520.00,214.45 L520.50,214.42 L521.00,214.40 L521.50,214.37 L522.00,214.35 L522.50,214.32 L523.00,214.29 L523.50,214.27 L524.00,214.24 L524.50,214.21 L525.00,214.18 L525.50,214.15 L526.00,214.13 L526.50,214.10 L527.00,214.07 L527.50,214.04 L528.00,214.01 L528.50,213.97 L529.00,213.94 L529.50,213.91 L530.00,213.88 L530.50,213.85 L531.00,213.81 L531.50,213.78 L532.00,213.75 L532.50,213.71 L533.00,213.68 L533.50,213.65 L534.00,213.61 L534.50,213.58 L535.00,213.54 L535.50,213.51 L536.00,213.47 L536.50,213.44 L537.00,213.40 L537.50,213.36 L538.00,213.33 L538.50,213.29 L539.00,213.26 L539.50,213.22 L540.00,213.18 L540.50,213.15 L541.00,213.11 L541.50,213.07 L542.00,213.03 L542.50,213.00 L543.00,212.96 L543.50,212.92 L544.00,212.89 L544.50,212.85 L545.00,212.81 L545.50,212.78 L546.00,212.74 L546.50,212.70 L547.00,212.66 L547.50,212.63 L548.00,212.59 L548.50,212.55 L549.00,212.52 L549.50,212.48 L550.00,212.44 L550.50,212.41 L551.00,212.37 L551.50,212.33 L552.00,212.30 L552.50,212.26 L553.00,212.23 L553.50,212.19 L554.00,212.15 L554.50,212.12 L555.00,212.08 L555.50,212.05 L556.00,212.01 L556.50,211.98 L557.00,211.94 L557.50,211.91 L558.00,211.87 L558.50,211.84 L559.00,211.80 L559.50,211.77 L560.00,211.73 L560.50,211.70 L561.00,211.66 L561.50,211.63 L562.00,211.59 L562.50,211.56 L563.00,211.52 L563.50,211.49 L564.00,211.45 L564.50,211.42 L565.00,211.38 L565.50,211.35 L566.00,211.31 L566.50,211.28 L567.00,211.24 L567.50,211.21 L568.00,211.17 L568.50,211.14 L569.00,211.10 L569.50,211.07 L570.00,211.03 L570.50,211.00 L571.00,210.96 L571.50,210.93 L572.00,210.89 L572.50,210.86 L573.00,210.82 L573.50,210.79 L574.00,210.75 L574.50,210.72 L575.00,210.68 L575.50,210.65 L576.00,210.61 L576.50,210.58 L577.00,210.54 L577.50,210.51 L578.00,210.48 L578.50,210.44 L579.00,210.41 L579.50,210.37 L580.00,210.34 L580.50,210.30 L581.00,210.27 L581.50,210.23 L582.00,210.20 L582.50,210.16 L583.00,210.13 L583.50,210.09 L583.60,210.08" fill="none" stroke="#d83fa6" stroke-width="1.5" stroke-linejoin="round"/>
<path d="M335.4,217.1 H595.5" stroke="#000" stroke-width="1.4" stroke-dasharray="5.85 5.93" fill="none"/>
<path d="M384.1,217.1 V222.3" stroke="#000" stroke-width="1.1" fill="none"/><path d="M384.1,225.0 V226.8" stroke="#000" stroke-opacity="0.6" stroke-width="1.0" fill="none"/>
<path d="M407.2,217.1 V222.3" stroke="#000" stroke-width="1.1" fill="none"/><path d="M407.2,225.0 V226.8" stroke="#000" stroke-opacity="0.6" stroke-width="1.0" fill="none"/>
<path d="M335.4,20.6 V227.4 H595.5" stroke="#2b2b2b" stroke-width="1.05" fill="none"/>
<path d="M333,22.6 H335.4" stroke="#2b2b2b" stroke-width="0.6"/>
<text x="332.0" y="25.90" text-anchor="end" class="tk">200</text>
<path d="M333,71.6 H335.4" stroke="#2b2b2b" stroke-width="0.6"/>
<text x="332.0" y="74.90" text-anchor="end" class="tk">150</text>
<path d="M333,120.5 H335.4" stroke="#2b2b2b" stroke-width="0.6"/>
<text x="332.0" y="123.80" text-anchor="end" class="tk">100</text>
<path d="M333,169.3 H335.4" stroke="#2b2b2b" stroke-width="0.6"/>
<text x="332.0" y="172.60" text-anchor="end" class="tk">50</text>
<path d="M333,218.3 H335.4" stroke="#2b2b2b" stroke-width="0.6"/>
<text x="332.0" y="221.60" text-anchor="end" class="tk">0</text>
<path d="M344.4,227.4 V230" stroke="#2b2b2b" stroke-width="0.6"/>
<text x="344.4" y="236.6" text-anchor="middle" class="tk">1</text>
<path d="M398.3,227.4 V230" stroke="#2b2b2b" stroke-width="0.6"/>
<text x="398.3" y="236.6" text-anchor="middle" class="tk">2</text>
<path d="M452.1,227.4 V230" stroke="#2b2b2b" stroke-width="0.6"/>
<text x="452.1" y="236.6" text-anchor="middle" class="tk">3</text>
<path d="M505.9,227.4 V230" stroke="#2b2b2b" stroke-width="0.6"/>
<text x="505.9" y="236.6" text-anchor="middle" class="tk">4</text>
<path d="M559.7,227.4 V230" stroke="#2b2b2b" stroke-width="0.6"/>
<text x="559.7" y="236.6" text-anchor="middle" class="tk">5</text>
<text x="383.4" y="236.9" text-anchor="middle" class="tkb" fill="#3b93cf" stroke="#3b93cf">1.66</text>
<text x="409.1" y="236.9" text-anchor="middle" class="tkb" fill="#d83fa6" stroke="#d83fa6">2.10</text>
<text x="325.3" y="8.8" class="b" font-size="12" textLength="37.4" lengthAdjust="spacingAndGlyphs">EP risk</text>
<text transform="translate(308.7,154.3) rotate(-90)" class="b" font-size="11.7" textLength="64.8" lengthAdjust="spacingAndGlyphs">HR (95%CI)</text>
<text y="251.8" class="b" font-size="11.7"><tspan x="388.8" textLength="82.9" lengthAdjust="spacingAndGlyphs">48h Serum HCG</tspan><tspan x="476.4" textLength="55.9" lengthAdjust="spacingAndGlyphs">rising ratio</tspan></text>
<text x="470.8" y="198.4" class="b" font-size="17.8" textLength="60.6" lengthAdjust="spacingAndGlyphs"><tspan font-style="italic">P</tspan>&lt;0.001</text>
<text x="607.7" y="107.4" class="b" font-size="11.7" textLength="33" lengthAdjust="spacingAndGlyphs">Group</text>
<rect x="607.8" y="117.8" width="12.0" height="11.7" fill="#3b93cf" fill-opacity="0.15"/>
<rect x="607.8" y="130.1" width="12.0" height="11.7" fill="#d83fa6" fill-opacity="0.15"/>
<path d="M608.9,123.9 H618.8" stroke="#3b93cf" stroke-width="1.6"/>
<path d="M608.9,136.3 H618.8" stroke="#d83fa6" stroke-width="1.6"/>
<text x="626.4" y="127.6" class="b" font-size="10.5" textLength="55.4" lengthAdjust="spacingAndGlyphs">Low EP risk</text>
<text x="626.4" y="140.4" class="b" font-size="10.5" textLength="57.6" lengthAdjust="spacingAndGlyphs">High EP risk</text>
</svg>
</body></html>
